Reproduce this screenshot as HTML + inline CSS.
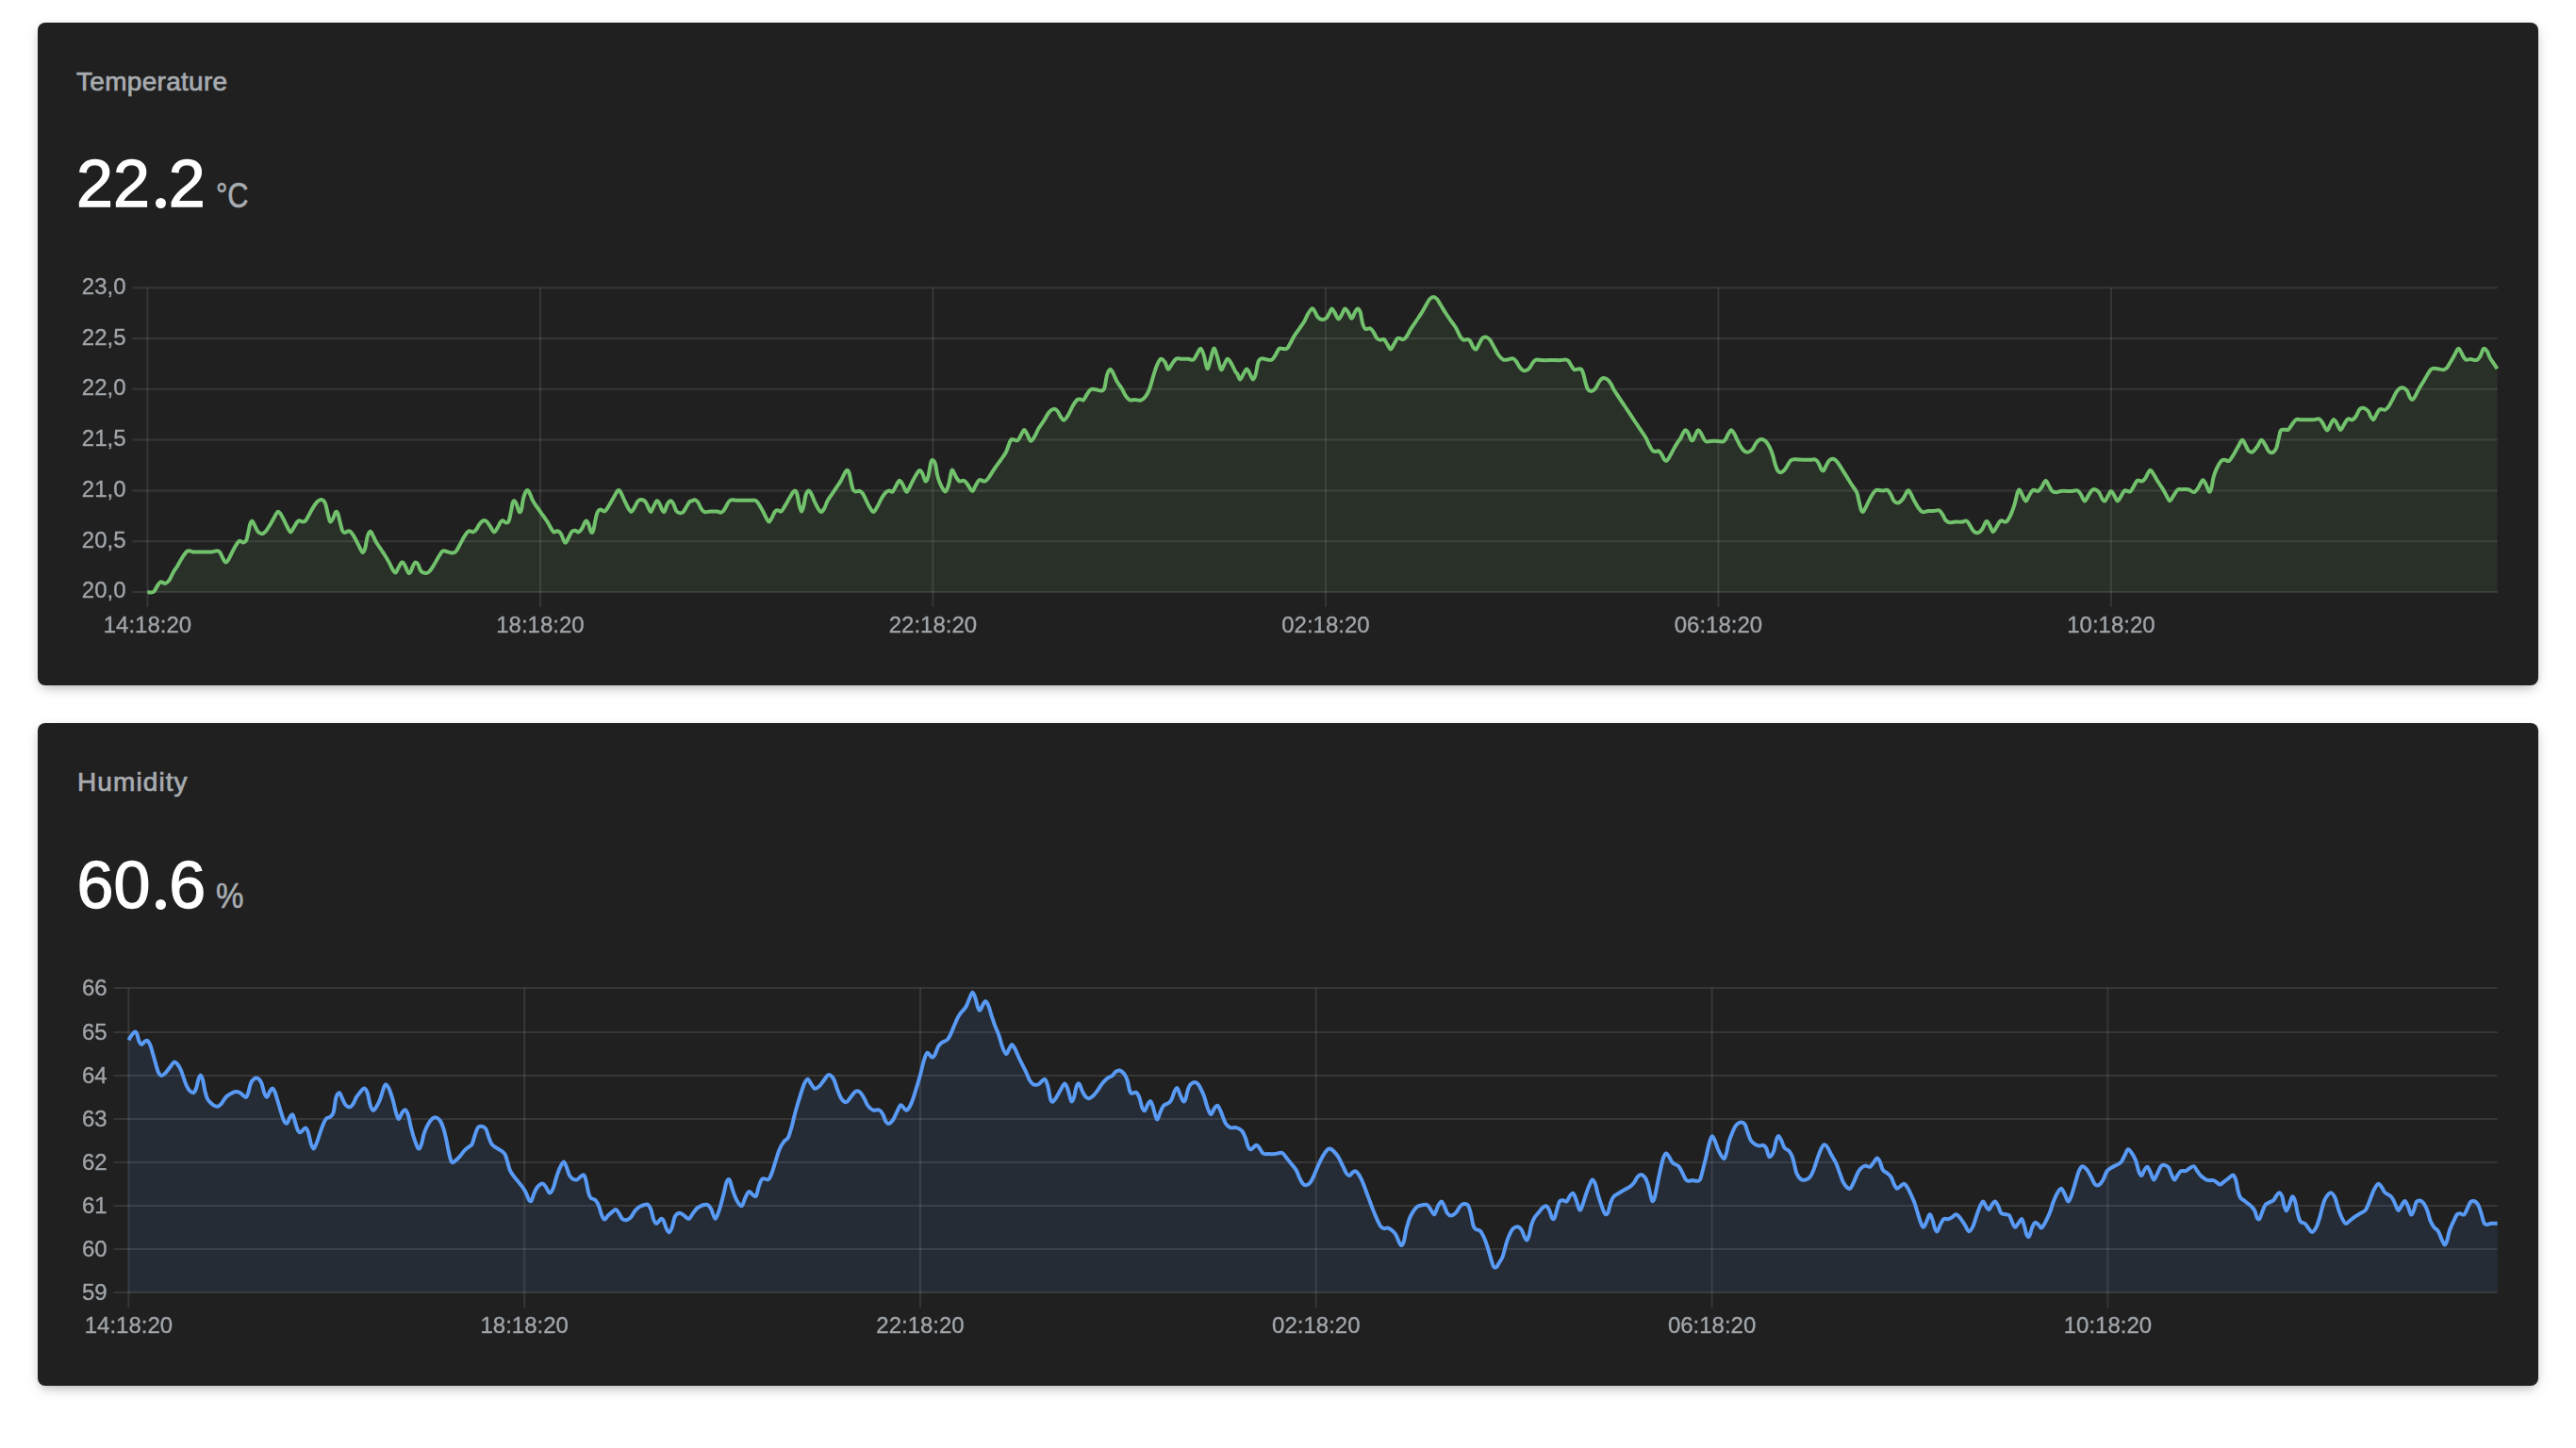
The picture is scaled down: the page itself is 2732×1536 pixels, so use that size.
<!DOCTYPE html>
<html><head><meta charset="utf-8">
<style>
html,body{margin:0;padding:0;background:#fff;}
body{width:2732px;height:1536px;overflow:hidden;position:relative;font-family:"Liberation Sans",sans-serif;}
.card{position:absolute;left:40px;width:2652px;height:703px;background:#202020;border-radius:8px;
 box-shadow:0 5px 14px -4px rgba(0,0,0,.35),0 0 8px rgba(0,0,0,.04);}
.c1{top:24px}.c2{top:766.6px}
.t{position:absolute;line-height:1;white-space:nowrap;}
.title{font-size:28px;color:#a8acb1;-webkit-text-stroke:0.7px #a8acb1}
.val{font-size:70px;color:#fff;-webkit-text-stroke:1.3px #fff}
.tp{color:transparent;-webkit-text-stroke-color:transparent}
.dot{position:absolute;width:11px;height:11px;border-radius:50%;background:#fff}
.unit{font-size:36px;color:#a8acb1;-webkit-text-stroke:0.6px #a8acb1;transform:scaleX(0.9);transform-origin:0 0}
svg{position:absolute;left:0;top:0}
text{font-family:"Liberation Sans",sans-serif;font-size:24px;fill:#a0a5aa;stroke:#a0a5aa;stroke-width:0.35px}
.yl{text-anchor:end}
.xl{text-anchor:middle}
</style></head><body>
<div class="card c1"></div>
<div class="card c2"></div>
<div class="t title" style="left:81px;top:73px;letter-spacing:0.3px">Temperature</div>
<div class="t val" style="left:81px;top:160.4px;letter-spacing:0.1px">22<span class="tp">.</span>2</div>
<div class="dot" style="left:164.7px;top:210.3px"></div>
<div class="t unit" style="left:229px;top:190px;transform:scaleX(0.855)">°C</div>
<div class="t title" style="left:82px;top:815.7px;letter-spacing:1.1px">Humidity</div>
<div class="t val" style="left:81.5px;top:903.7px;letter-spacing:0.1px">60<span class="tp">.</span>6</div>
<div class="dot" style="left:164.9px;top:953.5px"></div>
<div class="t unit" style="left:229px;top:933.3px;transform:scaleX(0.92)">%</div>
<svg width="2732" height="1536" viewBox="0 0 2732 1536" style="will-change:transform"><g stroke="rgba(255,255,255,0.1)" stroke-width="2"><line x1="140.4" y1="305.30" x2="2648.7" y2="305.30"/><line x1="140.4" y1="359.08" x2="2648.7" y2="359.08"/><line x1="140.4" y1="412.85" x2="2648.7" y2="412.85"/><line x1="140.4" y1="466.62" x2="2648.7" y2="466.62"/><line x1="140.4" y1="520.40" x2="2648.7" y2="520.40"/><line x1="140.4" y1="574.17" x2="2648.7" y2="574.17"/><line x1="140.4" y1="627.95" x2="2648.7" y2="627.95"/><line x1="156.40" y1="305.3" x2="156.40" y2="644.0"/><line x1="572.90" y1="305.3" x2="572.90" y2="644.0"/><line x1="989.40" y1="305.3" x2="989.40" y2="644.0"/><line x1="1405.90" y1="305.3" x2="1405.90" y2="644.0"/><line x1="1822.40" y1="305.3" x2="1822.40" y2="644.0"/><line x1="2238.90" y1="305.3" x2="2238.90" y2="644.0"/></g><path d="M156.4,628.1 C157.5,628.1 161.1,629.0 162.8,627.9 C164.6,626.8 165.6,623.2 166.9,621.5 C168.1,619.7 168.9,617.9 170.4,617.4 C171.8,617.0 174.1,619.2 175.6,618.8 C177.2,618.4 178.3,617.1 179.7,615.1 C181.1,613.1 182.3,609.5 183.8,606.9 C185.2,604.4 186.9,602.5 188.4,599.9 C190.0,597.4 191.5,594.2 193.1,591.8 C194.6,589.4 196.6,586.7 197.7,585.4 C198.9,584.1 198.9,584.2 200.1,584.2 C201.2,584.2 203.0,585.2 204.7,585.4 C206.5,585.6 207.3,585.4 210.6,585.4 C213.9,585.4 221.2,585.6 224.5,585.4 C227.8,585.2 228.9,584.1 230.4,584.2 C231.8,584.3 232.2,584.5 233.3,586.0 C234.3,587.4 235.8,591.2 236.8,593.0 C237.7,594.7 238.2,596.3 239.1,596.5 C240.0,596.6 240.7,596.1 242.0,594.1 C243.3,592.2 245.1,587.7 246.7,584.8 C248.2,581.9 250.1,578.5 251.3,576.7 C252.6,574.8 253.1,573.9 254.2,573.7 C255.4,573.6 257.1,575.6 258.3,575.5 C259.5,575.4 260.3,575.1 261.2,573.2 C262.1,571.2 262.9,566.8 263.5,563.8 C264.2,560.9 264.6,557.5 265.3,555.7 C266.0,553.9 266.8,552.6 267.6,552.8 C268.4,553.0 269.0,555.0 269.9,556.9 C270.9,558.7 272.2,562.3 273.4,563.8 C274.7,565.4 276.2,566.2 277.5,566.2 C278.9,566.2 280.1,565.4 281.6,563.8 C283.0,562.3 284.7,559.4 286.3,556.9 C287.8,554.3 289.6,551.0 290.9,548.7 C292.3,546.4 293.3,543.6 294.4,542.9 C295.5,542.2 296.2,543.1 297.3,544.6 C298.5,546.2 299.9,549.4 301.4,552.2 C302.8,555.0 304.9,559.5 306.0,561.5 C307.2,563.6 307.4,564.8 308.4,564.4 C309.3,564.0 310.7,561.0 311.9,559.2 C313.0,557.3 314.4,554.5 315.4,553.4 C316.3,552.2 316.7,552.2 317.7,552.2 C318.7,552.2 320.0,553.7 321.2,553.6 C322.4,553.5 323.5,553.0 324.7,551.6 C325.8,550.2 326.8,547.6 328.2,545.2 C329.5,542.8 331.5,539.2 332.8,537.1 C334.2,534.9 335.2,533.6 336.3,532.4 C337.5,531.2 338.7,530.3 339.8,530.1 C341.0,529.9 342.3,530.3 343.3,531.2 C344.3,532.2 344.9,533.4 345.6,535.9 C346.4,538.4 347.2,543.5 348.0,546.4 C348.8,549.3 349.4,552.8 350.3,553.4 C351.2,553.9 352.2,551.6 353.2,549.9 C354.2,548.1 355.3,543.7 356.1,542.9 C357.0,542.1 357.7,543.3 358.5,545.2 C359.2,547.2 360.0,551.6 360.8,554.5 C361.6,557.4 362.3,560.9 363.1,562.7 C363.9,564.4 364.3,564.9 365.4,565.0 C366.6,565.1 368.7,563.1 370.1,563.3 C371.5,563.5 372.2,564.3 373.6,566.2 C375.0,568.0 376.7,571.4 378.3,574.3 C379.8,577.2 381.8,581.7 382.9,583.6 C384.0,585.6 384.0,586.2 384.7,586.0 C385.3,585.8 386.1,585.4 387.0,582.5 C387.9,579.6 388.9,571.6 389.9,568.5 C390.9,565.4 391.8,563.8 392.8,563.8 C393.8,563.8 394.7,566.6 395.7,568.5 C396.8,570.4 397.9,573.2 399.2,575.5 C400.6,577.8 402.3,580.2 403.9,582.5 C405.4,584.8 407.0,586.9 408.5,589.5 C410.1,592.0 411.8,595.1 413.2,597.6 C414.5,600.1 415.6,603.0 416.7,604.6 C417.7,606.3 418.6,607.9 419.6,607.5 C420.6,607.1 421.4,604.1 422.5,602.3 C423.6,600.4 424.9,597.0 426.0,596.5 C427.1,595.9 427.7,596.9 428.9,598.8 C430.1,600.6 431.9,606.2 433.0,607.5 C434.1,608.9 434.5,608.0 435.3,606.9 C436.1,605.9 436.8,602.9 437.6,601.1 C438.5,599.4 439.6,596.8 440.6,596.5 C441.5,596.1 442.5,597.2 443.5,598.8 C444.4,600.3 445.1,604.2 446.4,605.8 C447.6,607.3 449.6,608.0 451.1,608.1 C452.5,608.2 453.7,607.7 455.1,606.4 C456.6,605.0 458.2,602.4 459.8,599.9 C461.4,597.5 463.0,594.2 464.5,591.8 C465.9,589.4 467.5,586.7 468.5,585.4 C469.6,584.1 469.8,584.2 470.9,584.2 C471.9,584.2 473.4,585.0 474.9,585.4 C476.5,585.8 478.7,586.7 480.2,586.6 C481.6,586.5 482.4,586.3 483.7,584.8 C484.9,583.4 486.3,580.4 487.7,577.8 C489.2,575.2 490.9,571.5 492.4,569.1 C494.0,566.7 495.5,564.0 497.1,563.3 C498.6,562.5 500.4,564.7 501.7,564.4 C503.1,564.1 504.1,563.0 505.2,561.5 C506.4,560.1 507.4,557.2 508.7,555.7 C510.0,554.1 511.5,552.6 512.8,552.2 C514.0,551.8 515.0,552.2 516.3,553.4 C517.5,554.5 519.1,557.3 520.4,559.2 C521.6,561.0 522.7,564.2 523.8,564.4 C525.0,564.6 526.2,562.1 527.3,560.4 C528.5,558.6 529.9,555.3 530.8,553.9 C531.8,552.6 532.2,552.1 533.2,552.2 C534.1,552.3 535.6,554.4 536.7,554.5 C537.7,554.6 538.7,554.7 539.6,552.8 C540.4,550.8 541.2,546.1 541.9,542.9 C542.6,539.7 543.1,535.5 543.6,533.6 C544.2,531.6 544.7,531.0 545.4,531.2 C546.1,531.4 546.8,532.8 547.7,534.7 C548.6,536.7 549.8,541.9 550.6,542.9 C551.5,543.9 552.2,543.1 553.0,540.6 C553.7,538.0 554.3,531.1 555.3,527.7 C556.3,524.3 557.7,521.0 558.8,520.2 C559.9,519.4 560.7,521.4 561.7,523.1 C562.7,524.7 563.5,527.9 564.6,530.1 C565.7,532.2 566.5,533.6 568.1,535.9 C569.7,538.2 572.0,541.3 573.9,544.1 C575.9,546.8 578.0,549.5 579.7,552.2 C581.5,554.9 583.1,558.3 584.4,560.4 C585.7,562.4 586.2,563.9 587.3,564.4 C588.5,564.9 590.1,563.0 591.4,563.3 C592.7,563.6 593.8,564.5 594.9,566.2 C596.0,567.8 596.9,571.6 597.8,573.2 C598.7,574.7 599.3,576.0 600.1,575.5 C601.0,575.0 602.0,572.2 603.0,570.3 C604.1,568.3 605.4,565.1 606.5,563.8 C607.7,562.6 608.9,562.6 610.0,562.7 C611.2,562.8 612.4,564.7 613.5,564.4 C614.7,564.1 615.8,562.9 617.0,560.9 C618.3,559.0 619.9,553.7 621.1,552.8 C622.3,551.9 623.0,553.8 624.0,555.7 C625.0,557.6 626.0,563.3 626.9,564.4 C627.8,565.6 628.5,564.9 629.2,562.7 C630.0,560.5 630.8,554.3 631.6,551.0 C632.3,547.7 633.0,544.6 633.9,542.9 C634.8,541.1 635.5,540.7 636.8,540.6 C638.1,540.5 639.9,543.1 641.5,542.3 C643.0,541.5 644.6,538.3 646.1,535.9 C647.7,533.5 649.2,530.4 650.8,527.7 C652.3,525.1 654.2,521.1 655.4,520.2 C656.7,519.3 657.2,520.7 658.4,522.5 C659.5,524.3 661.1,528.4 662.4,531.2 C663.8,534.1 665.3,537.5 666.5,539.4 C667.7,541.3 668.4,542.9 669.4,542.9 C670.4,542.9 671.2,541.2 672.3,539.4 C673.5,537.5 675.0,533.4 676.4,531.8 C677.8,530.3 679.1,530.0 680.5,530.1 C681.8,530.2 683.3,530.9 684.6,532.4 C685.8,534.0 687.1,537.6 688.0,539.4 C689.0,541.1 689.5,543.3 690.4,542.9 C691.3,542.5 692.2,539.0 693.3,537.1 C694.4,535.1 695.7,531.6 696.8,531.2 C697.9,530.9 698.7,533.0 699.7,534.7 C700.7,536.5 701.7,540.5 702.6,541.7 C703.5,543.0 704.1,543.5 704.9,542.3 C705.8,541.1 706.8,536.6 707.8,534.7 C708.9,532.9 710.3,531.2 711.3,531.2 C712.4,531.2 713.3,533.0 714.3,534.7 C715.2,536.5 716.1,540.2 717.2,541.7 C718.2,543.3 719.5,543.8 720.7,544.1 C721.8,544.3 723.0,544.4 724.2,543.5 C725.3,542.5 726.5,540.1 727.6,538.2 C728.8,536.4 730.2,533.5 731.1,532.4 C732.1,531.3 732.5,531.8 733.5,531.4 C734.5,531.1 735.8,530.0 737.0,530.3 C738.2,530.5 739.3,531.5 740.5,533.2 C741.6,534.8 742.8,538.5 744.0,540.2 C745.1,541.8 745.9,542.7 747.5,543.1 C749.0,543.5 751.2,542.6 753.3,542.5 C755.4,542.4 758.3,542.3 760.3,542.5 C762.2,542.7 763.6,544.0 764.9,543.6 C766.3,543.3 767.1,542.1 768.4,540.2 C769.8,538.2 771.7,533.6 773.1,532.0 C774.4,530.3 775.0,530.4 776.6,530.3 C778.1,530.1 779.3,530.7 782.4,530.8 C785.5,530.9 792.1,530.8 795.2,530.8 C798.3,530.8 799.5,530.3 801.0,530.8 C802.6,531.4 803.2,532.4 804.5,534.3 C805.9,536.3 807.8,540.0 809.2,542.5 C810.5,545.0 811.6,547.6 812.7,549.5 C813.8,551.3 814.6,553.5 815.6,553.5 C816.6,553.5 817.4,551.3 818.5,549.5 C819.6,547.6 820.9,543.8 822.0,542.5 C823.1,541.1 823.8,541.3 824.9,541.3 C826.0,541.3 827.1,543.3 828.4,542.5 C829.7,541.7 831.0,539.0 832.5,536.7 C833.9,534.3 835.8,530.8 837.1,528.5 C838.5,526.2 839.7,524.0 840.6,522.7 C841.6,521.3 842.2,520.2 843.0,520.4 C843.7,520.5 844.5,521.3 845.3,523.8 C846.1,526.4 846.8,532.4 847.6,535.5 C848.4,538.6 849.2,542.3 849.9,542.5 C850.7,542.7 851.5,539.6 852.3,536.7 C853.1,533.7 853.7,527.7 854.6,525.0 C855.5,522.3 856.5,520.5 857.5,520.4 C858.5,520.2 859.4,521.9 860.4,523.8 C861.5,525.8 862.8,529.5 863.9,532.0 C865.1,534.5 866.3,537.1 867.4,539.0 C868.6,540.8 869.7,543.1 870.9,543.1 C872.1,543.1 873.2,541.0 874.4,539.0 C875.6,536.9 876.5,533.4 877.9,530.8 C879.3,528.3 881.0,526.2 882.6,523.8 C884.1,521.5 885.7,519.2 887.2,516.9 C888.8,514.5 890.5,512.2 891.9,509.9 C893.2,507.5 894.3,504.7 895.4,502.9 C896.4,501.0 897.4,499.0 898.3,498.8 C899.2,498.6 899.9,499.9 900.6,501.7 C901.3,503.6 901.7,507.0 902.4,509.9 C903.0,512.8 903.8,517.2 904.7,519.2 C905.6,521.1 906.4,521.2 907.6,521.5 C908.8,521.8 910.4,520.5 911.7,520.9 C912.9,521.3 914.0,522.2 915.2,523.8 C916.3,525.5 917.5,528.5 918.7,530.8 C919.8,533.2 920.9,535.8 922.2,537.8 C923.4,539.9 924.9,543.1 926.2,543.1 C927.6,543.1 928.8,540.2 930.3,537.8 C931.8,535.4 933.4,531.1 935.0,528.5 C936.5,525.9 938.3,523.5 939.6,522.1 C941.0,520.7 941.9,520.5 943.1,520.4 C944.3,520.3 945.4,522.3 946.6,521.5 C947.8,520.7 948.9,517.6 950.1,515.7 C951.3,513.8 952.4,510.3 953.6,509.9 C954.8,509.5 955.8,511.4 957.1,513.4 C958.3,515.3 960.0,520.7 961.2,521.5 C962.3,522.3 962.8,520.2 964.1,518.0 C965.3,515.9 967.0,511.8 968.7,508.7 C970.5,505.6 973.0,500.6 974.6,499.4 C976.1,498.2 976.9,499.9 978.0,501.7 C979.2,503.6 980.5,509.9 981.5,510.5 C982.6,511.0 983.5,508.6 984.5,505.2 C985.4,501.8 986.5,492.9 987.4,490.1 C988.2,487.3 988.9,487.9 989.7,488.3 C990.5,488.7 991.2,489.6 992.0,492.4 C992.8,495.2 993.4,501.5 994.4,505.2 C995.3,508.9 996.5,511.8 997.8,514.5 C999.2,517.2 1001.1,521.5 1002.5,521.5 C1003.9,521.5 1004.9,518.0 1006.0,514.5 C1007.1,511.0 1008.1,503.1 1008.9,500.6 C1009.7,498.0 1009.8,498.4 1010.7,499.4 C1011.5,500.4 1013.0,504.5 1014.2,506.4 C1015.3,508.2 1016.3,509.9 1017.6,510.5 C1019.0,511.0 1020.9,509.4 1022.3,509.9 C1023.7,510.4 1024.3,511.5 1025.8,513.4 C1027.3,515.2 1029.6,520.6 1031.0,520.9 C1032.5,521.3 1033.2,517.4 1034.5,515.4 C1035.8,513.5 1037.0,510.0 1038.6,509.2 C1040.3,508.4 1042.6,510.9 1044.2,510.6 C1045.8,510.2 1046.6,509.3 1048.3,507.1 C1050.0,504.9 1052.3,500.7 1054.5,497.5 C1056.7,494.2 1059.4,490.8 1061.4,487.8 C1063.5,484.8 1065.2,483.0 1067.0,479.5 C1068.7,476.0 1070.4,469.3 1071.8,467.1 C1073.2,464.9 1074.0,466.4 1075.2,466.4 C1076.5,466.4 1078.1,467.9 1079.4,467.1 C1080.7,466.3 1081.7,463.4 1082.8,461.5 C1084.0,459.7 1085.1,456.0 1086.3,456.0 C1087.4,456.0 1088.6,459.6 1089.8,461.5 C1090.9,463.5 1091.9,467.5 1093.2,467.8 C1094.5,468.0 1096.0,465.1 1097.3,462.9 C1098.7,460.7 1099.9,457.4 1101.5,454.6 C1103.1,451.9 1105.2,449.2 1107.0,446.4 C1108.9,443.5 1110.8,439.4 1112.5,437.4 C1114.3,435.3 1115.9,434.2 1117.4,433.9 C1118.9,433.7 1120.3,434.6 1121.5,436.0 C1122.8,437.4 1123.8,440.6 1125.0,442.2 C1126.1,443.8 1127.2,445.9 1128.4,445.7 C1129.7,445.4 1131.1,443.2 1132.6,440.8 C1134.1,438.4 1135.8,433.9 1137.4,431.2 C1139.0,428.4 1140.9,425.5 1142.2,424.3 C1143.6,423.0 1144.5,423.6 1145.7,423.6 C1146.8,423.6 1148.0,425.1 1149.1,424.3 C1150.3,423.4 1151.3,420.6 1152.6,418.7 C1153.9,416.9 1155.1,414.1 1156.7,413.2 C1158.4,412.3 1160.4,413.0 1162.3,413.2 C1164.1,413.4 1166.3,414.8 1167.8,414.6 C1169.3,414.4 1170.2,414.6 1171.2,411.8 C1172.3,409.1 1173.0,401.3 1174.0,398.0 C1175.0,394.7 1176.3,392.0 1177.5,391.8 C1178.6,391.6 1179.8,394.6 1180.9,396.6 C1182.1,398.7 1182.9,401.6 1184.4,404.2 C1185.9,406.9 1188.3,409.9 1189.9,412.5 C1191.5,415.2 1192.7,418.2 1194.0,420.1 C1195.4,422.1 1196.6,423.6 1198.2,424.3 C1199.8,424.9 1201.7,423.9 1203.7,424.0 C1205.7,424.0 1208.1,425.1 1209.9,424.5 C1211.8,424.0 1213.3,422.7 1214.8,420.8 C1216.2,418.9 1217.5,416.8 1218.9,413.2 C1220.3,409.6 1221.7,403.8 1223.0,399.4 C1224.4,395.0 1225.8,390.1 1227.2,387.0 C1228.6,383.9 1229.9,381.2 1231.3,380.7 C1232.7,380.3 1234.2,382.4 1235.5,384.2 C1236.7,386.0 1237.8,391.3 1238.9,391.8 C1240.1,392.3 1241.0,388.8 1242.4,387.0 C1243.8,385.1 1245.4,381.8 1247.2,380.7 C1249.1,379.7 1251.2,380.7 1253.4,380.7 C1255.6,380.7 1258.3,380.6 1260.3,380.7 C1262.4,380.9 1264.2,382.5 1265.9,381.4 C1267.5,380.4 1268.7,376.5 1270.0,374.5 C1271.3,372.6 1272.3,369.2 1273.5,369.7 C1274.6,370.2 1275.8,373.7 1276.9,377.3 C1278.1,380.9 1279.2,390.4 1280.4,391.1 C1281.5,391.8 1282.7,385.0 1283.8,381.4 C1285.0,377.9 1286.1,370.4 1287.3,369.7 C1288.4,369.0 1289.5,373.6 1290.7,377.3 C1292.0,381.0 1293.7,390.0 1294.9,391.8 C1296.0,393.6 1296.5,390.2 1297.6,388.3 C1298.8,386.5 1300.4,381.2 1301.8,380.7 C1303.1,380.3 1304.5,383.4 1305.9,385.6 C1307.3,387.8 1309.0,392.0 1310.1,393.9 C1311.1,395.7 1311.5,395.2 1312.3,396.7 C1313.2,398.1 1314.2,402.5 1315.2,402.5 C1316.3,402.5 1317.6,398.5 1318.7,396.7 C1319.9,394.8 1321.1,391.4 1322.2,391.4 C1323.4,391.4 1324.7,394.8 1325.7,396.7 C1326.8,398.5 1327.7,402.3 1328.6,402.5 C1329.6,402.7 1330.6,400.9 1331.5,397.8 C1332.5,394.7 1333.4,386.8 1334.5,383.8 C1335.5,380.9 1336.4,380.7 1337.9,380.4 C1339.5,380.0 1341.9,381.3 1343.8,381.5 C1345.6,381.7 1347.6,382.3 1349.0,381.5 C1350.5,380.7 1351.2,378.8 1352.5,376.9 C1353.8,374.9 1355.3,371.0 1356.6,369.9 C1357.8,368.7 1358.7,369.9 1360.1,369.9 C1361.4,369.9 1363.4,370.7 1364.7,369.9 C1366.1,369.0 1366.9,367.0 1368.2,364.6 C1369.6,362.3 1371.1,358.7 1372.9,355.9 C1374.6,353.1 1377.0,350.3 1378.7,347.7 C1380.5,345.2 1381.9,343.3 1383.4,340.8 C1384.8,338.2 1386.1,334.8 1387.4,332.6 C1388.8,330.4 1390.4,327.8 1391.5,327.4 C1392.7,327.0 1393.5,328.8 1394.4,330.3 C1395.4,331.7 1396.1,334.6 1397.3,336.1 C1398.6,337.6 1400.4,338.8 1402.0,339.0 C1403.6,339.2 1405.3,338.5 1406.7,337.3 C1408.0,336.0 1409.2,333.1 1410.2,331.4 C1411.1,329.8 1411.6,327.4 1412.5,327.4 C1413.4,327.4 1414.2,329.6 1415.4,331.4 C1416.6,333.3 1418.2,338.0 1419.5,338.4 C1420.7,338.8 1421.8,335.6 1423.0,333.8 C1424.1,331.9 1425.3,327.8 1426.5,327.4 C1427.6,327.0 1428.8,329.7 1429.9,331.4 C1431.1,333.2 1432.3,337.8 1433.4,337.8 C1434.6,337.8 1435.9,333.2 1436.9,331.4 C1438.0,329.7 1438.9,327.4 1439.8,327.4 C1440.8,327.4 1441.9,328.8 1442.8,331.4 C1443.6,334.1 1444.2,340.2 1445.1,343.1 C1446.0,346.0 1446.6,348.0 1448.0,348.9 C1449.4,349.8 1451.8,347.7 1453.2,348.3 C1454.7,348.9 1455.6,350.7 1456.7,352.4 C1457.9,354.2 1459.1,357.5 1460.2,358.8 C1461.4,360.2 1462.5,360.4 1463.7,360.6 C1465.0,360.8 1466.5,359.2 1467.8,360.0 C1469.1,360.8 1470.1,363.5 1471.3,365.2 C1472.5,367.0 1473.6,370.5 1474.8,370.5 C1475.9,370.5 1477.0,367.2 1478.3,365.2 C1479.5,363.3 1480.7,359.7 1482.4,358.8 C1484.0,357.9 1486.6,360.3 1488.2,360.0 C1489.7,359.7 1490.3,358.9 1491.7,357.1 C1493.0,355.2 1494.6,351.7 1496.3,348.9 C1498.1,346.1 1500.2,343.1 1502.2,340.2 C1504.1,337.3 1506.2,334.3 1508.0,331.4 C1509.7,328.6 1511.3,325.6 1512.6,323.3 C1514.0,321.0 1514.9,318.8 1516.1,317.5 C1517.4,316.1 1518.8,315.1 1520.2,315.1 C1521.6,315.1 1523.0,316.1 1524.3,317.5 C1525.5,318.8 1526.4,321.1 1527.8,323.3 C1529.1,325.5 1530.7,328.1 1532.4,330.9 C1534.2,333.6 1536.3,336.8 1538.3,339.6 C1540.2,342.4 1542.3,344.8 1544.1,347.7 C1545.8,350.7 1547.4,354.9 1548.7,357.1 C1550.1,359.2 1551.0,360.1 1552.2,360.6 C1553.5,361.0 1555.1,359.8 1556.3,360.0 C1557.5,360.2 1558.1,360.3 1559.2,361.7 C1560.3,363.2 1561.6,367.3 1562.7,368.7 C1563.8,370.2 1564.6,371.0 1565.6,370.5 C1566.6,369.9 1567.5,367.2 1568.5,365.2 C1569.6,363.3 1570.8,360.1 1572.0,358.8 C1573.3,357.5 1574.7,357.4 1576.1,357.6 C1577.5,357.9 1578.7,358.7 1580.2,360.6 C1581.6,362.4 1583.3,366.0 1584.8,368.7 C1586.4,371.4 1587.9,374.7 1589.5,376.9 C1591.0,379.0 1592.6,380.7 1594.2,381.5 C1595.7,382.3 1597.1,381.7 1598.8,381.5 C1600.6,381.3 1603.1,380.0 1604.6,380.4 C1606.2,380.7 1607.0,382.0 1608.2,383.5 C1609.3,385.0 1610.5,387.8 1611.6,389.3 C1612.8,390.9 1614.0,392.2 1615.1,392.8 C1616.3,393.4 1617.5,393.2 1618.6,392.8 C1619.8,392.4 1621.0,391.8 1622.1,390.5 C1623.3,389.1 1624.5,386.1 1625.6,384.7 C1626.8,383.2 1627.6,382.2 1629.1,381.7 C1630.7,381.3 1632.0,382.0 1634.9,382.1 C1637.8,382.2 1643.1,382.1 1646.6,382.1 C1650.1,382.1 1653.6,382.2 1655.9,382.1 C1658.2,382.0 1659.3,381.3 1660.6,381.4 C1661.8,381.5 1662.4,381.7 1663.5,382.9 C1664.5,384.1 1665.9,387.2 1667.0,388.7 C1668.0,390.3 1668.8,391.7 1669.9,392.2 C1670.9,392.7 1672.2,391.7 1673.4,391.6 C1674.5,391.5 1675.9,390.9 1676.9,391.6 C1677.8,392.4 1678.4,394.0 1679.2,396.3 C1680.0,398.6 1680.7,402.9 1681.5,405.6 C1682.3,408.3 1683.0,411.1 1683.8,412.6 C1684.7,414.2 1685.7,414.7 1686.8,414.9 C1687.8,415.1 1689.2,414.5 1690.3,413.8 C1691.3,413.0 1692.1,411.9 1693.2,410.3 C1694.2,408.6 1695.5,405.4 1696.7,403.9 C1697.8,402.3 1698.9,401.3 1700.2,401.0 C1701.4,400.7 1702.9,401.2 1704.2,402.1 C1705.6,403.1 1707.0,404.8 1708.3,406.8 C1709.6,408.7 1710.4,411.4 1711.8,413.8 C1713.2,416.1 1714.7,418.1 1716.5,420.8 C1718.2,423.4 1720.3,426.6 1722.3,429.5 C1724.2,432.4 1726.2,435.3 1728.1,438.2 C1730.0,441.1 1732.0,444.1 1733.9,447.0 C1735.9,449.9 1737.8,452.8 1739.7,455.7 C1741.7,458.6 1744.0,461.7 1745.6,464.4 C1747.1,467.1 1747.9,469.8 1749.1,472.0 C1750.2,474.2 1751.4,476.7 1752.6,477.8 C1753.7,479.0 1755.0,478.9 1756.0,479.0 C1757.1,479.1 1758.0,478.0 1759.0,478.4 C1759.9,478.8 1760.9,479.9 1761.9,481.3 C1762.8,482.8 1763.9,485.9 1764.8,487.1 C1765.7,488.4 1766.3,489.0 1767.1,488.9 C1767.9,488.8 1768.6,487.8 1769.4,486.6 C1770.3,485.3 1771.3,483.3 1772.4,481.3 C1773.4,479.4 1774.7,476.9 1775.8,474.9 C1777.0,472.9 1778.3,470.7 1779.3,469.1 C1780.4,467.4 1781.3,466.7 1782.3,465.0 C1783.2,463.4 1784.3,460.6 1785.2,459.2 C1786.0,457.7 1786.6,456.3 1787.5,456.3 C1788.4,456.3 1789.4,457.5 1790.4,459.2 C1791.4,460.8 1792.4,464.9 1793.3,466.2 C1794.2,467.4 1794.9,467.5 1795.6,466.8 C1796.4,466.0 1797.1,463.3 1798.0,461.5 C1798.8,459.8 1799.9,456.7 1800.9,456.3 C1801.9,455.9 1802.8,457.7 1803.8,459.2 C1804.8,460.6 1805.7,463.5 1806.7,465.0 C1807.7,466.6 1808.4,468.0 1809.6,468.5 C1810.9,469.0 1812.3,468.0 1814.3,467.9 C1816.2,467.8 1819.1,467.8 1821.3,467.9 C1823.4,468.0 1825.6,468.8 1827.1,468.5 C1828.5,468.2 1829.0,467.5 1830.0,466.2 C1831.0,464.8 1831.9,462.0 1832.9,460.4 C1833.9,458.7 1834.9,456.5 1835.8,456.3 C1836.8,456.1 1837.7,457.5 1838.7,459.2 C1839.8,460.8 1841.1,463.8 1842.2,466.2 C1843.4,468.5 1844.5,471.1 1845.7,473.2 C1847.0,475.2 1848.4,477.3 1849.8,478.4 C1851.2,479.5 1852.4,479.9 1853.9,479.6 C1855.3,479.3 1857.1,478.3 1858.5,476.7 C1860.0,475.0 1861.2,471.4 1862.6,469.7 C1864.0,467.9 1865.3,466.7 1866.7,466.2 C1868.0,465.7 1869.4,466.0 1870.8,466.8 C1872.1,467.5 1873.6,469.0 1874.8,470.8 C1876.1,472.7 1877.4,475.5 1878.3,477.8 C1879.3,480.2 1879.9,482.2 1880.7,484.8 C1881.4,487.4 1882.1,491.0 1883.0,493.5 C1883.9,496.1 1884.9,498.7 1885.9,499.9 C1886.9,501.2 1887.7,501.3 1888.8,501.1 C1889.9,500.9 1891.3,499.7 1892.3,498.8 C1893.3,497.8 1893.5,497.1 1894.7,495.4 C1895.8,493.7 1897.8,489.8 1899.3,488.4 C1900.9,487.1 1901.6,487.4 1904.0,487.3 C1906.3,487.2 1910.6,487.8 1913.3,487.8 C1916.0,487.9 1918.3,487.9 1920.3,487.8 C1922.2,487.8 1923.6,486.8 1924.9,487.3 C1926.3,487.8 1927.3,488.9 1928.4,490.8 C1929.6,492.6 1931.0,497.0 1931.9,498.3 C1932.9,499.7 1933.5,499.6 1934.3,498.9 C1935.0,498.2 1935.6,496.0 1936.6,494.3 C1937.6,492.5 1938.8,489.7 1940.1,488.4 C1941.3,487.2 1942.8,486.5 1944.2,486.7 C1945.5,486.9 1946.8,487.9 1948.2,489.6 C1949.7,491.2 1951.1,493.9 1952.9,496.6 C1954.6,499.3 1956.8,502.8 1958.7,505.9 C1960.6,509.0 1962.8,512.5 1964.5,515.2 C1966.3,517.9 1968.0,519.5 1969.2,522.2 C1970.4,524.9 1970.7,528.4 1971.5,531.5 C1972.3,534.6 1973.1,539.0 1973.8,540.8 C1974.6,542.7 1975.2,543.4 1976.2,542.6 C1977.1,541.8 1978.3,538.8 1979.7,536.2 C1981.0,533.6 1982.8,529.5 1984.3,526.9 C1985.9,524.2 1987.6,521.6 1989.0,520.5 C1990.3,519.3 1991.1,519.9 1992.5,519.9 C1993.8,519.9 1995.6,520.5 1997.1,520.5 C1998.7,520.5 2000.4,519.2 2001.8,519.9 C2003.2,520.6 2004.1,522.6 2005.3,524.5 C2006.5,526.5 2007.4,530.1 2008.8,531.5 C2010.1,533.0 2011.9,533.7 2013.4,533.3 C2015.0,532.9 2016.5,531.3 2018.1,529.2 C2019.8,527.1 2022.0,521.4 2023.3,520.5 C2024.7,519.5 2025.2,521.7 2026.3,523.4 C2027.3,525.0 2028.4,527.8 2029.7,530.4 C2031.1,532.9 2032.9,536.4 2034.4,538.5 C2036.0,540.6 2037.3,542.6 2039.1,543.2 C2040.8,543.7 2042.9,542.2 2044.9,542.0 C2046.8,541.8 2048.8,542.1 2050.7,542.0 C2052.6,541.9 2055.0,540.8 2056.5,541.4 C2058.1,542.0 2058.9,543.7 2060.0,545.5 C2061.2,547.2 2062.3,550.4 2063.5,551.9 C2064.8,553.4 2065.8,553.9 2067.6,554.2 C2069.3,554.5 2071.8,553.7 2074.0,553.6 C2076.2,553.5 2079.0,553.8 2081.0,553.6 C2082.9,553.5 2084.3,551.9 2085.6,552.5 C2087.0,553.1 2087.9,555.3 2089.1,557.1 C2090.4,559.0 2091.9,562.2 2093.2,563.5 C2094.6,564.9 2095.8,565.6 2097.3,565.3 C2098.7,565.0 2100.4,563.8 2101.9,561.8 C2103.5,559.8 2105.2,553.8 2106.6,553.1 C2108.0,552.3 2108.9,555.3 2110.1,557.1 C2111.3,559.0 2112.4,563.7 2113.6,564.1 C2114.8,564.5 2115.7,561.4 2117.1,559.5 C2118.4,557.5 2120.0,553.5 2121.7,552.5 C2123.5,551.5 2125.8,554.6 2127.6,553.6 C2129.3,552.7 2130.7,550.0 2132.2,546.7 C2133.8,543.4 2135.6,537.9 2136.9,533.8 C2138.1,529.8 2138.9,524.5 2139.8,522.2 C2140.7,519.9 2141.3,519.3 2142.1,519.9 C2143.0,520.5 2144.0,523.8 2145.0,525.7 C2146.1,527.6 2147.4,531.5 2148.5,531.5 C2149.7,531.5 2150.8,527.6 2152.0,525.7 C2153.3,523.8 2154.5,520.6 2156.1,519.9 C2157.7,519.1 2159.9,521.4 2161.3,521.0 C2162.8,520.6 2163.5,519.4 2164.8,517.5 C2166.2,515.7 2168.1,510.4 2169.5,510.0 C2170.9,509.6 2171.8,513.4 2173.0,515.2 C2174.2,517.1 2175.1,519.9 2176.5,521.0 C2177.8,522.2 2179.6,522.2 2181.1,522.2 C2182.7,522.2 2183.1,521.1 2185.8,520.9 C2188.5,520.7 2194.6,521.0 2197.5,520.9 C2200.4,520.8 2201.7,519.7 2203.3,520.3 C2204.8,520.9 2205.5,522.6 2206.8,524.4 C2208.0,526.2 2209.5,531.2 2210.9,531.4 C2212.2,531.6 2213.7,527.4 2214.9,525.6 C2216.2,523.7 2217.3,521.4 2218.4,520.3 C2219.6,519.3 2220.7,518.9 2221.9,519.2 C2223.2,519.5 2224.7,520.4 2226.0,522.1 C2227.3,523.7 2228.4,527.5 2229.5,529.1 C2230.6,530.6 2231.3,532.0 2232.4,531.4 C2233.5,530.8 2234.8,527.3 2235.9,525.6 C2237.0,523.8 2237.8,521.1 2238.8,520.9 C2239.8,520.7 2240.6,522.7 2241.7,524.4 C2242.9,526.2 2244.4,531.2 2245.8,531.4 C2247.2,531.6 2248.6,527.4 2249.9,525.6 C2251.1,523.7 2251.8,521.0 2253.4,520.3 C2254.9,519.6 2257.6,522.2 2259.2,521.5 C2260.7,520.8 2261.4,518.2 2262.7,516.3 C2263.9,514.3 2265.2,510.8 2266.8,509.8 C2268.3,508.9 2270.5,510.9 2272.0,510.4 C2273.5,509.9 2274.1,508.9 2275.5,506.9 C2276.9,505.0 2278.7,499.4 2280.2,498.8 C2281.6,498.2 2282.9,501.5 2284.2,503.4 C2285.6,505.4 2286.8,508.1 2288.3,510.4 C2289.8,512.8 2291.4,514.9 2293.0,517.4 C2294.5,519.9 2296.3,523.2 2297.6,525.6 C2299.0,527.9 2299.9,531.2 2301.1,531.4 C2302.3,531.6 2303.2,528.7 2304.6,526.7 C2306.0,524.8 2307.7,521.0 2309.3,519.7 C2310.8,518.5 2312.0,519.3 2313.9,519.2 C2315.9,519.1 2318.8,518.7 2320.9,519.2 C2323.0,519.6 2325.0,522.4 2326.7,522.1 C2328.5,521.8 2329.8,519.6 2331.4,517.4 C2332.9,515.3 2334.7,509.8 2336.0,509.3 C2337.4,508.7 2338.4,511.9 2339.5,513.9 C2340.7,516.0 2342.1,520.9 2343.0,521.5 C2344.0,522.1 2344.6,520.0 2345.4,517.4 C2346.1,514.8 2346.7,509.3 2347.7,505.8 C2348.7,502.3 2349.8,499.3 2351.2,496.5 C2352.5,493.6 2354.5,490.3 2355.8,488.9 C2357.2,487.4 2358.0,487.7 2359.3,487.7 C2360.7,487.7 2362.4,489.8 2364.0,488.9 C2365.6,488.0 2367.1,484.9 2368.7,482.5 C2370.2,480.1 2371.8,476.9 2373.3,474.3 C2374.9,471.7 2376.6,467.1 2378.0,466.8 C2379.3,466.4 2380.3,470.1 2381.5,472.0 C2382.6,473.9 2383.6,477.2 2385.0,478.4 C2386.3,479.6 2388.1,479.9 2389.6,479.0 C2391.2,478.1 2392.8,475.2 2394.3,473.2 C2395.7,471.1 2397.0,467.0 2398.4,466.8 C2399.7,466.6 2401.2,470.1 2402.4,472.0 C2403.7,473.9 2404.7,477.0 2405.9,478.4 C2407.2,479.8 2408.6,480.6 2410.0,480.2 C2411.4,479.7 2413.0,477.8 2414.1,475.5 C2415.1,473.2 2415.6,469.3 2416.4,466.2 C2417.2,463.1 2417.8,458.6 2418.7,456.9 C2419.7,455.1 2420.9,455.9 2422.2,455.7 C2423.6,455.5 2425.5,456.5 2426.9,455.7 C2428.2,454.9 2429.0,452.8 2430.4,451.0 C2431.7,449.3 2433.3,446.2 2435.0,445.2 C2436.8,444.2 2437.8,445.2 2440.9,445.2 C2444.0,445.2 2450.5,445.3 2453.7,445.2 C2456.8,445.1 2458.1,443.9 2459.7,444.5 C2461.4,445.1 2462.1,447.0 2463.4,449.0 C2464.8,451.0 2466.6,456.1 2467.9,456.4 C2469.3,456.7 2470.2,452.6 2471.4,450.7 C2472.5,448.8 2473.8,445.1 2475.0,444.9 C2476.1,444.6 2477.2,447.4 2478.4,449.2 C2479.6,451.1 2480.9,455.8 2482.2,456.0 C2483.5,456.2 2484.8,452.1 2486.1,450.2 C2487.4,448.3 2488.5,445.2 2490.0,444.4 C2491.4,443.6 2493.3,445.8 2494.8,445.4 C2496.2,444.9 2497.4,443.4 2498.7,441.5 C2500.0,439.6 2501.2,435.7 2502.5,434.2 C2503.8,432.8 2504.9,432.6 2506.4,432.8 C2507.8,433.0 2509.9,434.2 2511.2,435.7 C2512.5,437.1 2513.2,439.9 2514.1,441.5 C2515.1,443.1 2516.1,445.5 2517.0,445.4 C2518.0,445.2 2518.8,442.4 2519.9,440.5 C2521.1,438.7 2522.2,435.2 2523.8,434.2 C2525.4,433.3 2528.0,435.3 2529.6,434.7 C2531.2,434.2 2532.2,432.6 2533.5,430.9 C2534.8,429.1 2536.0,426.5 2537.3,424.1 C2538.6,421.7 2539.9,418.4 2541.2,416.4 C2542.5,414.4 2543.8,412.8 2545.1,412.0 C2546.4,411.2 2547.6,411.1 2548.9,411.5 C2550.2,411.9 2551.7,412.8 2552.8,414.4 C2553.9,416.0 2554.8,419.6 2555.7,421.2 C2556.6,422.8 2557.1,424.3 2558.1,424.1 C2559.1,423.9 2560.3,422.2 2561.5,420.2 C2562.7,418.3 2563.9,415.1 2565.4,412.5 C2566.8,409.9 2568.7,407.2 2570.2,404.8 C2571.6,402.3 2572.8,400.1 2574.1,398.0 C2575.4,395.9 2576.8,393.4 2577.9,392.2 C2579.1,391.0 2579.5,390.9 2580.8,390.7 C2582.1,390.6 2583.9,391.0 2585.7,391.2 C2587.4,391.5 2589.9,392.4 2591.5,392.2 C2593.1,392.0 2594.0,391.2 2595.3,389.8 C2596.6,388.3 2597.9,385.7 2599.2,383.5 C2600.5,381.3 2601.8,379.0 2603.1,376.7 C2604.4,374.5 2605.8,370.6 2606.9,370.0 C2608.1,369.3 2608.9,371.4 2609.8,372.9 C2610.8,374.3 2611.8,377.2 2612.7,378.7 C2613.7,380.1 2614.3,381.2 2615.6,381.6 C2616.9,382.0 2618.7,381.0 2620.5,381.1 C2622.2,381.2 2624.7,382.5 2626.3,382.0 C2627.9,381.6 2628.8,380.7 2630.1,378.7 C2631.4,376.7 2632.7,370.9 2634.0,370.0 C2635.3,369.0 2636.7,371.3 2637.9,372.9 C2639.0,374.5 2639.6,377.5 2640.8,379.6 C2641.9,381.7 2643.3,383.5 2644.6,385.4 C2645.9,387.4 2647.9,390.3 2648.5,391.2 L2648.5,628.0 L156.4,628.0 Z" fill="rgba(114,193,108,0.1)" stroke="none"/><path d="M156.4,628.1 C157.5,628.1 161.1,629.0 162.8,627.9 C164.6,626.8 165.6,623.2 166.9,621.5 C168.1,619.7 168.9,617.9 170.4,617.4 C171.8,617.0 174.1,619.2 175.6,618.8 C177.2,618.4 178.3,617.1 179.7,615.1 C181.1,613.1 182.3,609.5 183.8,606.9 C185.2,604.4 186.9,602.5 188.4,599.9 C190.0,597.4 191.5,594.2 193.1,591.8 C194.6,589.4 196.6,586.7 197.7,585.4 C198.9,584.1 198.9,584.2 200.1,584.2 C201.2,584.2 203.0,585.2 204.7,585.4 C206.5,585.6 207.3,585.4 210.6,585.4 C213.9,585.4 221.2,585.6 224.5,585.4 C227.8,585.2 228.9,584.1 230.4,584.2 C231.8,584.3 232.2,584.5 233.3,586.0 C234.3,587.4 235.8,591.2 236.8,593.0 C237.7,594.7 238.2,596.3 239.1,596.5 C240.0,596.6 240.7,596.1 242.0,594.1 C243.3,592.2 245.1,587.7 246.7,584.8 C248.2,581.9 250.1,578.5 251.3,576.7 C252.6,574.8 253.1,573.9 254.2,573.7 C255.4,573.6 257.1,575.6 258.3,575.5 C259.5,575.4 260.3,575.1 261.2,573.2 C262.1,571.2 262.9,566.8 263.5,563.8 C264.2,560.9 264.6,557.5 265.3,555.7 C266.0,553.9 266.8,552.6 267.6,552.8 C268.4,553.0 269.0,555.0 269.9,556.9 C270.9,558.7 272.2,562.3 273.4,563.8 C274.7,565.4 276.2,566.2 277.5,566.2 C278.9,566.2 280.1,565.4 281.6,563.8 C283.0,562.3 284.7,559.4 286.3,556.9 C287.8,554.3 289.6,551.0 290.9,548.7 C292.3,546.4 293.3,543.6 294.4,542.9 C295.5,542.2 296.2,543.1 297.3,544.6 C298.5,546.2 299.9,549.4 301.4,552.2 C302.8,555.0 304.9,559.5 306.0,561.5 C307.2,563.6 307.4,564.8 308.4,564.4 C309.3,564.0 310.7,561.0 311.9,559.2 C313.0,557.3 314.4,554.5 315.4,553.4 C316.3,552.2 316.7,552.2 317.7,552.2 C318.7,552.2 320.0,553.7 321.2,553.6 C322.4,553.5 323.5,553.0 324.7,551.6 C325.8,550.2 326.8,547.6 328.2,545.2 C329.5,542.8 331.5,539.2 332.8,537.1 C334.2,534.9 335.2,533.6 336.3,532.4 C337.5,531.2 338.7,530.3 339.8,530.1 C341.0,529.9 342.3,530.3 343.3,531.2 C344.3,532.2 344.9,533.4 345.6,535.9 C346.4,538.4 347.2,543.5 348.0,546.4 C348.8,549.3 349.4,552.8 350.3,553.4 C351.2,553.9 352.2,551.6 353.2,549.9 C354.2,548.1 355.3,543.7 356.1,542.9 C357.0,542.1 357.7,543.3 358.5,545.2 C359.2,547.2 360.0,551.6 360.8,554.5 C361.6,557.4 362.3,560.9 363.1,562.7 C363.9,564.4 364.3,564.9 365.4,565.0 C366.6,565.1 368.7,563.1 370.1,563.3 C371.5,563.5 372.2,564.3 373.6,566.2 C375.0,568.0 376.7,571.4 378.3,574.3 C379.8,577.2 381.8,581.7 382.9,583.6 C384.0,585.6 384.0,586.2 384.7,586.0 C385.3,585.8 386.1,585.4 387.0,582.5 C387.9,579.6 388.9,571.6 389.9,568.5 C390.9,565.4 391.8,563.8 392.8,563.8 C393.8,563.8 394.7,566.6 395.7,568.5 C396.8,570.4 397.9,573.2 399.2,575.5 C400.6,577.8 402.3,580.2 403.9,582.5 C405.4,584.8 407.0,586.9 408.5,589.5 C410.1,592.0 411.8,595.1 413.2,597.6 C414.5,600.1 415.6,603.0 416.7,604.6 C417.7,606.3 418.6,607.9 419.6,607.5 C420.6,607.1 421.4,604.1 422.5,602.3 C423.6,600.4 424.9,597.0 426.0,596.5 C427.1,595.9 427.7,596.9 428.9,598.8 C430.1,600.6 431.9,606.2 433.0,607.5 C434.1,608.9 434.5,608.0 435.3,606.9 C436.1,605.9 436.8,602.9 437.6,601.1 C438.5,599.4 439.6,596.8 440.6,596.5 C441.5,596.1 442.5,597.2 443.5,598.8 C444.4,600.3 445.1,604.2 446.4,605.8 C447.6,607.3 449.6,608.0 451.1,608.1 C452.5,608.2 453.7,607.7 455.1,606.4 C456.6,605.0 458.2,602.4 459.8,599.9 C461.4,597.5 463.0,594.2 464.5,591.8 C465.9,589.4 467.5,586.7 468.5,585.4 C469.6,584.1 469.8,584.2 470.9,584.2 C471.9,584.2 473.4,585.0 474.9,585.4 C476.5,585.8 478.7,586.7 480.2,586.6 C481.6,586.5 482.4,586.3 483.7,584.8 C484.9,583.4 486.3,580.4 487.7,577.8 C489.2,575.2 490.9,571.5 492.4,569.1 C494.0,566.7 495.5,564.0 497.1,563.3 C498.6,562.5 500.4,564.7 501.7,564.4 C503.1,564.1 504.1,563.0 505.2,561.5 C506.4,560.1 507.4,557.2 508.7,555.7 C510.0,554.1 511.5,552.6 512.8,552.2 C514.0,551.8 515.0,552.2 516.3,553.4 C517.5,554.5 519.1,557.3 520.4,559.2 C521.6,561.0 522.7,564.2 523.8,564.4 C525.0,564.6 526.2,562.1 527.3,560.4 C528.5,558.6 529.9,555.3 530.8,553.9 C531.8,552.6 532.2,552.1 533.2,552.2 C534.1,552.3 535.6,554.4 536.7,554.5 C537.7,554.6 538.7,554.7 539.6,552.8 C540.4,550.8 541.2,546.1 541.9,542.9 C542.6,539.7 543.1,535.5 543.6,533.6 C544.2,531.6 544.7,531.0 545.4,531.2 C546.1,531.4 546.8,532.8 547.7,534.7 C548.6,536.7 549.8,541.9 550.6,542.9 C551.5,543.9 552.2,543.1 553.0,540.6 C553.7,538.0 554.3,531.1 555.3,527.7 C556.3,524.3 557.7,521.0 558.8,520.2 C559.9,519.4 560.7,521.4 561.7,523.1 C562.7,524.7 563.5,527.9 564.6,530.1 C565.7,532.2 566.5,533.6 568.1,535.9 C569.7,538.2 572.0,541.3 573.9,544.1 C575.9,546.8 578.0,549.5 579.7,552.2 C581.5,554.9 583.1,558.3 584.4,560.4 C585.7,562.4 586.2,563.9 587.3,564.4 C588.5,564.9 590.1,563.0 591.4,563.3 C592.7,563.6 593.8,564.5 594.9,566.2 C596.0,567.8 596.9,571.6 597.8,573.2 C598.7,574.7 599.3,576.0 600.1,575.5 C601.0,575.0 602.0,572.2 603.0,570.3 C604.1,568.3 605.4,565.1 606.5,563.8 C607.7,562.6 608.9,562.6 610.0,562.7 C611.2,562.8 612.4,564.7 613.5,564.4 C614.7,564.1 615.8,562.9 617.0,560.9 C618.3,559.0 619.9,553.7 621.1,552.8 C622.3,551.9 623.0,553.8 624.0,555.7 C625.0,557.6 626.0,563.3 626.9,564.4 C627.8,565.6 628.5,564.9 629.2,562.7 C630.0,560.5 630.8,554.3 631.6,551.0 C632.3,547.7 633.0,544.6 633.9,542.9 C634.8,541.1 635.5,540.7 636.8,540.6 C638.1,540.5 639.9,543.1 641.5,542.3 C643.0,541.5 644.6,538.3 646.1,535.9 C647.7,533.5 649.2,530.4 650.8,527.7 C652.3,525.1 654.2,521.1 655.4,520.2 C656.7,519.3 657.2,520.7 658.4,522.5 C659.5,524.3 661.1,528.4 662.4,531.2 C663.8,534.1 665.3,537.5 666.5,539.4 C667.7,541.3 668.4,542.9 669.4,542.9 C670.4,542.9 671.2,541.2 672.3,539.4 C673.5,537.5 675.0,533.4 676.4,531.8 C677.8,530.3 679.1,530.0 680.5,530.1 C681.8,530.2 683.3,530.9 684.6,532.4 C685.8,534.0 687.1,537.6 688.0,539.4 C689.0,541.1 689.5,543.3 690.4,542.9 C691.3,542.5 692.2,539.0 693.3,537.1 C694.4,535.1 695.7,531.6 696.8,531.2 C697.9,530.9 698.7,533.0 699.7,534.7 C700.7,536.5 701.7,540.5 702.6,541.7 C703.5,543.0 704.1,543.5 704.9,542.3 C705.8,541.1 706.8,536.6 707.8,534.7 C708.9,532.9 710.3,531.2 711.3,531.2 C712.4,531.2 713.3,533.0 714.3,534.7 C715.2,536.5 716.1,540.2 717.2,541.7 C718.2,543.3 719.5,543.8 720.7,544.1 C721.8,544.3 723.0,544.4 724.2,543.5 C725.3,542.5 726.5,540.1 727.6,538.2 C728.8,536.4 730.2,533.5 731.1,532.4 C732.1,531.3 732.5,531.8 733.5,531.4 C734.5,531.1 735.8,530.0 737.0,530.3 C738.2,530.5 739.3,531.5 740.5,533.2 C741.6,534.8 742.8,538.5 744.0,540.2 C745.1,541.8 745.9,542.7 747.5,543.1 C749.0,543.5 751.2,542.6 753.3,542.5 C755.4,542.4 758.3,542.3 760.3,542.5 C762.2,542.7 763.6,544.0 764.9,543.6 C766.3,543.3 767.1,542.1 768.4,540.2 C769.8,538.2 771.7,533.6 773.1,532.0 C774.4,530.3 775.0,530.4 776.6,530.3 C778.1,530.1 779.3,530.7 782.4,530.8 C785.5,530.9 792.1,530.8 795.2,530.8 C798.3,530.8 799.5,530.3 801.0,530.8 C802.6,531.4 803.2,532.4 804.5,534.3 C805.9,536.3 807.8,540.0 809.2,542.5 C810.5,545.0 811.6,547.6 812.7,549.5 C813.8,551.3 814.6,553.5 815.6,553.5 C816.6,553.5 817.4,551.3 818.5,549.5 C819.6,547.6 820.9,543.8 822.0,542.5 C823.1,541.1 823.8,541.3 824.9,541.3 C826.0,541.3 827.1,543.3 828.4,542.5 C829.7,541.7 831.0,539.0 832.5,536.7 C833.9,534.3 835.8,530.8 837.1,528.5 C838.5,526.2 839.7,524.0 840.6,522.7 C841.6,521.3 842.2,520.2 843.0,520.4 C843.7,520.5 844.5,521.3 845.3,523.8 C846.1,526.4 846.8,532.4 847.6,535.5 C848.4,538.6 849.2,542.3 849.9,542.5 C850.7,542.7 851.5,539.6 852.3,536.7 C853.1,533.7 853.7,527.7 854.6,525.0 C855.5,522.3 856.5,520.5 857.5,520.4 C858.5,520.2 859.4,521.9 860.4,523.8 C861.5,525.8 862.8,529.5 863.9,532.0 C865.1,534.5 866.3,537.1 867.4,539.0 C868.6,540.8 869.7,543.1 870.9,543.1 C872.1,543.1 873.2,541.0 874.4,539.0 C875.6,536.9 876.5,533.4 877.9,530.8 C879.3,528.3 881.0,526.2 882.6,523.8 C884.1,521.5 885.7,519.2 887.2,516.9 C888.8,514.5 890.5,512.2 891.9,509.9 C893.2,507.5 894.3,504.7 895.4,502.9 C896.4,501.0 897.4,499.0 898.3,498.8 C899.2,498.6 899.9,499.9 900.6,501.7 C901.3,503.6 901.7,507.0 902.4,509.9 C903.0,512.8 903.8,517.2 904.7,519.2 C905.6,521.1 906.4,521.2 907.6,521.5 C908.8,521.8 910.4,520.5 911.7,520.9 C912.9,521.3 914.0,522.2 915.2,523.8 C916.3,525.5 917.5,528.5 918.7,530.8 C919.8,533.2 920.9,535.8 922.2,537.8 C923.4,539.9 924.9,543.1 926.2,543.1 C927.6,543.1 928.8,540.2 930.3,537.8 C931.8,535.4 933.4,531.1 935.0,528.5 C936.5,525.9 938.3,523.5 939.6,522.1 C941.0,520.7 941.9,520.5 943.1,520.4 C944.3,520.3 945.4,522.3 946.6,521.5 C947.8,520.7 948.9,517.6 950.1,515.7 C951.3,513.8 952.4,510.3 953.6,509.9 C954.8,509.5 955.8,511.4 957.1,513.4 C958.3,515.3 960.0,520.7 961.2,521.5 C962.3,522.3 962.8,520.2 964.1,518.0 C965.3,515.9 967.0,511.8 968.7,508.7 C970.5,505.6 973.0,500.6 974.6,499.4 C976.1,498.2 976.9,499.9 978.0,501.7 C979.2,503.6 980.5,509.9 981.5,510.5 C982.6,511.0 983.5,508.6 984.5,505.2 C985.4,501.8 986.5,492.9 987.4,490.1 C988.2,487.3 988.9,487.9 989.7,488.3 C990.5,488.7 991.2,489.6 992.0,492.4 C992.8,495.2 993.4,501.5 994.4,505.2 C995.3,508.9 996.5,511.8 997.8,514.5 C999.2,517.2 1001.1,521.5 1002.5,521.5 C1003.9,521.5 1004.9,518.0 1006.0,514.5 C1007.1,511.0 1008.1,503.1 1008.9,500.6 C1009.7,498.0 1009.8,498.4 1010.7,499.4 C1011.5,500.4 1013.0,504.5 1014.2,506.4 C1015.3,508.2 1016.3,509.9 1017.6,510.5 C1019.0,511.0 1020.9,509.4 1022.3,509.9 C1023.7,510.4 1024.3,511.5 1025.8,513.4 C1027.3,515.2 1029.6,520.6 1031.0,520.9 C1032.5,521.3 1033.2,517.4 1034.5,515.4 C1035.8,513.5 1037.0,510.0 1038.6,509.2 C1040.3,508.4 1042.6,510.9 1044.2,510.6 C1045.8,510.2 1046.6,509.3 1048.3,507.1 C1050.0,504.9 1052.3,500.7 1054.5,497.5 C1056.7,494.2 1059.4,490.8 1061.4,487.8 C1063.5,484.8 1065.2,483.0 1067.0,479.5 C1068.7,476.0 1070.4,469.3 1071.8,467.1 C1073.2,464.9 1074.0,466.4 1075.2,466.4 C1076.5,466.4 1078.1,467.9 1079.4,467.1 C1080.7,466.3 1081.7,463.4 1082.8,461.5 C1084.0,459.7 1085.1,456.0 1086.3,456.0 C1087.4,456.0 1088.6,459.6 1089.8,461.5 C1090.9,463.5 1091.9,467.5 1093.2,467.8 C1094.5,468.0 1096.0,465.1 1097.3,462.9 C1098.7,460.7 1099.9,457.4 1101.5,454.6 C1103.1,451.9 1105.2,449.2 1107.0,446.4 C1108.9,443.5 1110.8,439.4 1112.5,437.4 C1114.3,435.3 1115.9,434.2 1117.4,433.9 C1118.9,433.7 1120.3,434.6 1121.5,436.0 C1122.8,437.4 1123.8,440.6 1125.0,442.2 C1126.1,443.8 1127.2,445.9 1128.4,445.7 C1129.7,445.4 1131.1,443.2 1132.6,440.8 C1134.1,438.4 1135.8,433.9 1137.4,431.2 C1139.0,428.4 1140.9,425.5 1142.2,424.3 C1143.6,423.0 1144.5,423.6 1145.7,423.6 C1146.8,423.6 1148.0,425.1 1149.1,424.3 C1150.3,423.4 1151.3,420.6 1152.6,418.7 C1153.9,416.9 1155.1,414.1 1156.7,413.2 C1158.4,412.3 1160.4,413.0 1162.3,413.2 C1164.1,413.4 1166.3,414.8 1167.8,414.6 C1169.3,414.4 1170.2,414.6 1171.2,411.8 C1172.3,409.1 1173.0,401.3 1174.0,398.0 C1175.0,394.7 1176.3,392.0 1177.5,391.8 C1178.6,391.6 1179.8,394.6 1180.9,396.6 C1182.1,398.7 1182.9,401.6 1184.4,404.2 C1185.9,406.9 1188.3,409.9 1189.9,412.5 C1191.5,415.2 1192.7,418.2 1194.0,420.1 C1195.4,422.1 1196.6,423.6 1198.2,424.3 C1199.8,424.9 1201.7,423.9 1203.7,424.0 C1205.7,424.0 1208.1,425.1 1209.9,424.5 C1211.8,424.0 1213.3,422.7 1214.8,420.8 C1216.2,418.9 1217.5,416.8 1218.9,413.2 C1220.3,409.6 1221.7,403.8 1223.0,399.4 C1224.4,395.0 1225.8,390.1 1227.2,387.0 C1228.6,383.9 1229.9,381.2 1231.3,380.7 C1232.7,380.3 1234.2,382.4 1235.5,384.2 C1236.7,386.0 1237.8,391.3 1238.9,391.8 C1240.1,392.3 1241.0,388.8 1242.4,387.0 C1243.8,385.1 1245.4,381.8 1247.2,380.7 C1249.1,379.7 1251.2,380.7 1253.4,380.7 C1255.6,380.7 1258.3,380.6 1260.3,380.7 C1262.4,380.9 1264.2,382.5 1265.9,381.4 C1267.5,380.4 1268.7,376.5 1270.0,374.5 C1271.3,372.6 1272.3,369.2 1273.5,369.7 C1274.6,370.2 1275.8,373.7 1276.9,377.3 C1278.1,380.9 1279.2,390.4 1280.4,391.1 C1281.5,391.8 1282.7,385.0 1283.8,381.4 C1285.0,377.9 1286.1,370.4 1287.3,369.7 C1288.4,369.0 1289.5,373.6 1290.7,377.3 C1292.0,381.0 1293.7,390.0 1294.9,391.8 C1296.0,393.6 1296.5,390.2 1297.6,388.3 C1298.8,386.5 1300.4,381.2 1301.8,380.7 C1303.1,380.3 1304.5,383.4 1305.9,385.6 C1307.3,387.8 1309.0,392.0 1310.1,393.9 C1311.1,395.7 1311.5,395.2 1312.3,396.7 C1313.2,398.1 1314.2,402.5 1315.2,402.5 C1316.3,402.5 1317.6,398.5 1318.7,396.7 C1319.9,394.8 1321.1,391.4 1322.2,391.4 C1323.4,391.4 1324.7,394.8 1325.7,396.7 C1326.8,398.5 1327.7,402.3 1328.6,402.5 C1329.6,402.7 1330.6,400.9 1331.5,397.8 C1332.5,394.7 1333.4,386.8 1334.5,383.8 C1335.5,380.9 1336.4,380.7 1337.9,380.4 C1339.5,380.0 1341.9,381.3 1343.8,381.5 C1345.6,381.7 1347.6,382.3 1349.0,381.5 C1350.5,380.7 1351.2,378.8 1352.5,376.9 C1353.8,374.9 1355.3,371.0 1356.6,369.9 C1357.8,368.7 1358.7,369.9 1360.1,369.9 C1361.4,369.9 1363.4,370.7 1364.7,369.9 C1366.1,369.0 1366.9,367.0 1368.2,364.6 C1369.6,362.3 1371.1,358.7 1372.9,355.9 C1374.6,353.1 1377.0,350.3 1378.7,347.7 C1380.5,345.2 1381.9,343.3 1383.4,340.8 C1384.8,338.2 1386.1,334.8 1387.4,332.6 C1388.8,330.4 1390.4,327.8 1391.5,327.4 C1392.7,327.0 1393.5,328.8 1394.4,330.3 C1395.4,331.7 1396.1,334.6 1397.3,336.1 C1398.6,337.6 1400.4,338.8 1402.0,339.0 C1403.6,339.2 1405.3,338.5 1406.7,337.3 C1408.0,336.0 1409.2,333.1 1410.2,331.4 C1411.1,329.8 1411.6,327.4 1412.5,327.4 C1413.4,327.4 1414.2,329.6 1415.4,331.4 C1416.6,333.3 1418.2,338.0 1419.5,338.4 C1420.7,338.8 1421.8,335.6 1423.0,333.8 C1424.1,331.9 1425.3,327.8 1426.5,327.4 C1427.6,327.0 1428.8,329.7 1429.9,331.4 C1431.1,333.2 1432.3,337.8 1433.4,337.8 C1434.6,337.8 1435.9,333.2 1436.9,331.4 C1438.0,329.7 1438.9,327.4 1439.8,327.4 C1440.8,327.4 1441.9,328.8 1442.8,331.4 C1443.6,334.1 1444.2,340.2 1445.1,343.1 C1446.0,346.0 1446.6,348.0 1448.0,348.9 C1449.4,349.8 1451.8,347.7 1453.2,348.3 C1454.7,348.9 1455.6,350.7 1456.7,352.4 C1457.9,354.2 1459.1,357.5 1460.2,358.8 C1461.4,360.2 1462.5,360.4 1463.7,360.6 C1465.0,360.8 1466.5,359.2 1467.8,360.0 C1469.1,360.8 1470.1,363.5 1471.3,365.2 C1472.5,367.0 1473.6,370.5 1474.8,370.5 C1475.9,370.5 1477.0,367.2 1478.3,365.2 C1479.5,363.3 1480.7,359.7 1482.4,358.8 C1484.0,357.9 1486.6,360.3 1488.2,360.0 C1489.7,359.7 1490.3,358.9 1491.7,357.1 C1493.0,355.2 1494.6,351.7 1496.3,348.9 C1498.1,346.1 1500.2,343.1 1502.2,340.2 C1504.1,337.3 1506.2,334.3 1508.0,331.4 C1509.7,328.6 1511.3,325.6 1512.6,323.3 C1514.0,321.0 1514.9,318.8 1516.1,317.5 C1517.4,316.1 1518.8,315.1 1520.2,315.1 C1521.6,315.1 1523.0,316.1 1524.3,317.5 C1525.5,318.8 1526.4,321.1 1527.8,323.3 C1529.1,325.5 1530.7,328.1 1532.4,330.9 C1534.2,333.6 1536.3,336.8 1538.3,339.6 C1540.2,342.4 1542.3,344.8 1544.1,347.7 C1545.8,350.7 1547.4,354.9 1548.7,357.1 C1550.1,359.2 1551.0,360.1 1552.2,360.6 C1553.5,361.0 1555.1,359.8 1556.3,360.0 C1557.5,360.2 1558.1,360.3 1559.2,361.7 C1560.3,363.2 1561.6,367.3 1562.7,368.7 C1563.8,370.2 1564.6,371.0 1565.6,370.5 C1566.6,369.9 1567.5,367.2 1568.5,365.2 C1569.6,363.3 1570.8,360.1 1572.0,358.8 C1573.3,357.5 1574.7,357.4 1576.1,357.6 C1577.5,357.9 1578.7,358.7 1580.2,360.6 C1581.6,362.4 1583.3,366.0 1584.8,368.7 C1586.4,371.4 1587.9,374.7 1589.5,376.9 C1591.0,379.0 1592.6,380.7 1594.2,381.5 C1595.7,382.3 1597.1,381.7 1598.8,381.5 C1600.6,381.3 1603.1,380.0 1604.6,380.4 C1606.2,380.7 1607.0,382.0 1608.2,383.5 C1609.3,385.0 1610.5,387.8 1611.6,389.3 C1612.8,390.9 1614.0,392.2 1615.1,392.8 C1616.3,393.4 1617.5,393.2 1618.6,392.8 C1619.8,392.4 1621.0,391.8 1622.1,390.5 C1623.3,389.1 1624.5,386.1 1625.6,384.7 C1626.8,383.2 1627.6,382.2 1629.1,381.7 C1630.7,381.3 1632.0,382.0 1634.9,382.1 C1637.8,382.2 1643.1,382.1 1646.6,382.1 C1650.1,382.1 1653.6,382.2 1655.9,382.1 C1658.2,382.0 1659.3,381.3 1660.6,381.4 C1661.8,381.5 1662.4,381.7 1663.5,382.9 C1664.5,384.1 1665.9,387.2 1667.0,388.7 C1668.0,390.3 1668.8,391.7 1669.9,392.2 C1670.9,392.7 1672.2,391.7 1673.4,391.6 C1674.5,391.5 1675.9,390.9 1676.9,391.6 C1677.8,392.4 1678.4,394.0 1679.2,396.3 C1680.0,398.6 1680.7,402.9 1681.5,405.6 C1682.3,408.3 1683.0,411.1 1683.8,412.6 C1684.7,414.2 1685.7,414.7 1686.8,414.9 C1687.8,415.1 1689.2,414.5 1690.3,413.8 C1691.3,413.0 1692.1,411.9 1693.2,410.3 C1694.2,408.6 1695.5,405.4 1696.7,403.9 C1697.8,402.3 1698.9,401.3 1700.2,401.0 C1701.4,400.7 1702.9,401.2 1704.2,402.1 C1705.6,403.1 1707.0,404.8 1708.3,406.8 C1709.6,408.7 1710.4,411.4 1711.8,413.8 C1713.2,416.1 1714.7,418.1 1716.5,420.8 C1718.2,423.4 1720.3,426.6 1722.3,429.5 C1724.2,432.4 1726.2,435.3 1728.1,438.2 C1730.0,441.1 1732.0,444.1 1733.9,447.0 C1735.9,449.9 1737.8,452.8 1739.7,455.7 C1741.7,458.6 1744.0,461.7 1745.6,464.4 C1747.1,467.1 1747.9,469.8 1749.1,472.0 C1750.2,474.2 1751.4,476.7 1752.6,477.8 C1753.7,479.0 1755.0,478.9 1756.0,479.0 C1757.1,479.1 1758.0,478.0 1759.0,478.4 C1759.9,478.8 1760.9,479.9 1761.9,481.3 C1762.8,482.8 1763.9,485.9 1764.8,487.1 C1765.7,488.4 1766.3,489.0 1767.1,488.9 C1767.9,488.8 1768.6,487.8 1769.4,486.6 C1770.3,485.3 1771.3,483.3 1772.4,481.3 C1773.4,479.4 1774.7,476.9 1775.8,474.9 C1777.0,472.9 1778.3,470.7 1779.3,469.1 C1780.4,467.4 1781.3,466.7 1782.3,465.0 C1783.2,463.4 1784.3,460.6 1785.2,459.2 C1786.0,457.7 1786.6,456.3 1787.5,456.3 C1788.4,456.3 1789.4,457.5 1790.4,459.2 C1791.4,460.8 1792.4,464.9 1793.3,466.2 C1794.2,467.4 1794.9,467.5 1795.6,466.8 C1796.4,466.0 1797.1,463.3 1798.0,461.5 C1798.8,459.8 1799.9,456.7 1800.9,456.3 C1801.9,455.9 1802.8,457.7 1803.8,459.2 C1804.8,460.6 1805.7,463.5 1806.7,465.0 C1807.7,466.6 1808.4,468.0 1809.6,468.5 C1810.9,469.0 1812.3,468.0 1814.3,467.9 C1816.2,467.8 1819.1,467.8 1821.3,467.9 C1823.4,468.0 1825.6,468.8 1827.1,468.5 C1828.5,468.2 1829.0,467.5 1830.0,466.2 C1831.0,464.8 1831.9,462.0 1832.9,460.4 C1833.9,458.7 1834.9,456.5 1835.8,456.3 C1836.8,456.1 1837.7,457.5 1838.7,459.2 C1839.8,460.8 1841.1,463.8 1842.2,466.2 C1843.4,468.5 1844.5,471.1 1845.7,473.2 C1847.0,475.2 1848.4,477.3 1849.8,478.4 C1851.2,479.5 1852.4,479.9 1853.9,479.6 C1855.3,479.3 1857.1,478.3 1858.5,476.7 C1860.0,475.0 1861.2,471.4 1862.6,469.7 C1864.0,467.9 1865.3,466.7 1866.7,466.2 C1868.0,465.7 1869.4,466.0 1870.8,466.8 C1872.1,467.5 1873.6,469.0 1874.8,470.8 C1876.1,472.7 1877.4,475.5 1878.3,477.8 C1879.3,480.2 1879.9,482.2 1880.7,484.8 C1881.4,487.4 1882.1,491.0 1883.0,493.5 C1883.9,496.1 1884.9,498.7 1885.9,499.9 C1886.9,501.2 1887.7,501.3 1888.8,501.1 C1889.9,500.9 1891.3,499.7 1892.3,498.8 C1893.3,497.8 1893.5,497.1 1894.7,495.4 C1895.8,493.7 1897.8,489.8 1899.3,488.4 C1900.9,487.1 1901.6,487.4 1904.0,487.3 C1906.3,487.2 1910.6,487.8 1913.3,487.8 C1916.0,487.9 1918.3,487.9 1920.3,487.8 C1922.2,487.8 1923.6,486.8 1924.9,487.3 C1926.3,487.8 1927.3,488.9 1928.4,490.8 C1929.6,492.6 1931.0,497.0 1931.9,498.3 C1932.9,499.7 1933.5,499.6 1934.3,498.9 C1935.0,498.2 1935.6,496.0 1936.6,494.3 C1937.6,492.5 1938.8,489.7 1940.1,488.4 C1941.3,487.2 1942.8,486.5 1944.2,486.7 C1945.5,486.9 1946.8,487.9 1948.2,489.6 C1949.7,491.2 1951.1,493.9 1952.9,496.6 C1954.6,499.3 1956.8,502.8 1958.7,505.9 C1960.6,509.0 1962.8,512.5 1964.5,515.2 C1966.3,517.9 1968.0,519.5 1969.2,522.2 C1970.4,524.9 1970.7,528.4 1971.5,531.5 C1972.3,534.6 1973.1,539.0 1973.8,540.8 C1974.6,542.7 1975.2,543.4 1976.2,542.6 C1977.1,541.8 1978.3,538.8 1979.7,536.2 C1981.0,533.6 1982.8,529.5 1984.3,526.9 C1985.9,524.2 1987.6,521.6 1989.0,520.5 C1990.3,519.3 1991.1,519.9 1992.5,519.9 C1993.8,519.9 1995.6,520.5 1997.1,520.5 C1998.7,520.5 2000.4,519.2 2001.8,519.9 C2003.2,520.6 2004.1,522.6 2005.3,524.5 C2006.5,526.5 2007.4,530.1 2008.8,531.5 C2010.1,533.0 2011.9,533.7 2013.4,533.3 C2015.0,532.9 2016.5,531.3 2018.1,529.2 C2019.8,527.1 2022.0,521.4 2023.3,520.5 C2024.7,519.5 2025.2,521.7 2026.3,523.4 C2027.3,525.0 2028.4,527.8 2029.7,530.4 C2031.1,532.9 2032.9,536.4 2034.4,538.5 C2036.0,540.6 2037.3,542.6 2039.1,543.2 C2040.8,543.7 2042.9,542.2 2044.9,542.0 C2046.8,541.8 2048.8,542.1 2050.7,542.0 C2052.6,541.9 2055.0,540.8 2056.5,541.4 C2058.1,542.0 2058.9,543.7 2060.0,545.5 C2061.2,547.2 2062.3,550.4 2063.5,551.9 C2064.8,553.4 2065.8,553.9 2067.6,554.2 C2069.3,554.5 2071.8,553.7 2074.0,553.6 C2076.2,553.5 2079.0,553.8 2081.0,553.6 C2082.9,553.5 2084.3,551.9 2085.6,552.5 C2087.0,553.1 2087.9,555.3 2089.1,557.1 C2090.4,559.0 2091.9,562.2 2093.2,563.5 C2094.6,564.9 2095.8,565.6 2097.3,565.3 C2098.7,565.0 2100.4,563.8 2101.9,561.8 C2103.5,559.8 2105.2,553.8 2106.6,553.1 C2108.0,552.3 2108.9,555.3 2110.1,557.1 C2111.3,559.0 2112.4,563.7 2113.6,564.1 C2114.8,564.5 2115.7,561.4 2117.1,559.5 C2118.4,557.5 2120.0,553.5 2121.7,552.5 C2123.5,551.5 2125.8,554.6 2127.6,553.6 C2129.3,552.7 2130.7,550.0 2132.2,546.7 C2133.8,543.4 2135.6,537.9 2136.9,533.8 C2138.1,529.8 2138.9,524.5 2139.8,522.2 C2140.7,519.9 2141.3,519.3 2142.1,519.9 C2143.0,520.5 2144.0,523.8 2145.0,525.7 C2146.1,527.6 2147.4,531.5 2148.5,531.5 C2149.7,531.5 2150.8,527.6 2152.0,525.7 C2153.3,523.8 2154.5,520.6 2156.1,519.9 C2157.7,519.1 2159.9,521.4 2161.3,521.0 C2162.8,520.6 2163.5,519.4 2164.8,517.5 C2166.2,515.7 2168.1,510.4 2169.5,510.0 C2170.9,509.6 2171.8,513.4 2173.0,515.2 C2174.2,517.1 2175.1,519.9 2176.5,521.0 C2177.8,522.2 2179.6,522.2 2181.1,522.2 C2182.7,522.2 2183.1,521.1 2185.8,520.9 C2188.5,520.7 2194.6,521.0 2197.5,520.9 C2200.4,520.8 2201.7,519.7 2203.3,520.3 C2204.8,520.9 2205.5,522.6 2206.8,524.4 C2208.0,526.2 2209.5,531.2 2210.9,531.4 C2212.2,531.6 2213.7,527.4 2214.9,525.6 C2216.2,523.7 2217.3,521.4 2218.4,520.3 C2219.6,519.3 2220.7,518.9 2221.9,519.2 C2223.2,519.5 2224.7,520.4 2226.0,522.1 C2227.3,523.7 2228.4,527.5 2229.5,529.1 C2230.6,530.6 2231.3,532.0 2232.4,531.4 C2233.5,530.8 2234.8,527.3 2235.9,525.6 C2237.0,523.8 2237.8,521.1 2238.8,520.9 C2239.8,520.7 2240.6,522.7 2241.7,524.4 C2242.9,526.2 2244.4,531.2 2245.8,531.4 C2247.2,531.6 2248.6,527.4 2249.9,525.6 C2251.1,523.7 2251.8,521.0 2253.4,520.3 C2254.9,519.6 2257.6,522.2 2259.2,521.5 C2260.7,520.8 2261.4,518.2 2262.7,516.3 C2263.9,514.3 2265.2,510.8 2266.8,509.8 C2268.3,508.9 2270.5,510.9 2272.0,510.4 C2273.5,509.9 2274.1,508.9 2275.5,506.9 C2276.9,505.0 2278.7,499.4 2280.2,498.8 C2281.6,498.2 2282.9,501.5 2284.2,503.4 C2285.6,505.4 2286.8,508.1 2288.3,510.4 C2289.8,512.8 2291.4,514.9 2293.0,517.4 C2294.5,519.9 2296.3,523.2 2297.6,525.6 C2299.0,527.9 2299.9,531.2 2301.1,531.4 C2302.3,531.6 2303.2,528.7 2304.6,526.7 C2306.0,524.8 2307.7,521.0 2309.3,519.7 C2310.8,518.5 2312.0,519.3 2313.9,519.2 C2315.9,519.1 2318.8,518.7 2320.9,519.2 C2323.0,519.6 2325.0,522.4 2326.7,522.1 C2328.5,521.8 2329.8,519.6 2331.4,517.4 C2332.9,515.3 2334.7,509.8 2336.0,509.3 C2337.4,508.7 2338.4,511.9 2339.5,513.9 C2340.7,516.0 2342.1,520.9 2343.0,521.5 C2344.0,522.1 2344.6,520.0 2345.4,517.4 C2346.1,514.8 2346.7,509.3 2347.7,505.8 C2348.7,502.3 2349.8,499.3 2351.2,496.5 C2352.5,493.6 2354.5,490.3 2355.8,488.9 C2357.2,487.4 2358.0,487.7 2359.3,487.7 C2360.7,487.7 2362.4,489.8 2364.0,488.9 C2365.6,488.0 2367.1,484.9 2368.7,482.5 C2370.2,480.1 2371.8,476.9 2373.3,474.3 C2374.9,471.7 2376.6,467.1 2378.0,466.8 C2379.3,466.4 2380.3,470.1 2381.5,472.0 C2382.6,473.9 2383.6,477.2 2385.0,478.4 C2386.3,479.6 2388.1,479.9 2389.6,479.0 C2391.2,478.1 2392.8,475.2 2394.3,473.2 C2395.7,471.1 2397.0,467.0 2398.4,466.8 C2399.7,466.6 2401.2,470.1 2402.4,472.0 C2403.7,473.9 2404.7,477.0 2405.9,478.4 C2407.2,479.8 2408.6,480.6 2410.0,480.2 C2411.4,479.7 2413.0,477.8 2414.1,475.5 C2415.1,473.2 2415.6,469.3 2416.4,466.2 C2417.2,463.1 2417.8,458.6 2418.7,456.9 C2419.7,455.1 2420.9,455.9 2422.2,455.7 C2423.6,455.5 2425.5,456.5 2426.9,455.7 C2428.2,454.9 2429.0,452.8 2430.4,451.0 C2431.7,449.3 2433.3,446.2 2435.0,445.2 C2436.8,444.2 2437.8,445.2 2440.9,445.2 C2444.0,445.2 2450.5,445.3 2453.7,445.2 C2456.8,445.1 2458.1,443.9 2459.7,444.5 C2461.4,445.1 2462.1,447.0 2463.4,449.0 C2464.8,451.0 2466.6,456.1 2467.9,456.4 C2469.3,456.7 2470.2,452.6 2471.4,450.7 C2472.5,448.8 2473.8,445.1 2475.0,444.9 C2476.1,444.6 2477.2,447.4 2478.4,449.2 C2479.6,451.1 2480.9,455.8 2482.2,456.0 C2483.5,456.2 2484.8,452.1 2486.1,450.2 C2487.4,448.3 2488.5,445.2 2490.0,444.4 C2491.4,443.6 2493.3,445.8 2494.8,445.4 C2496.2,444.9 2497.4,443.4 2498.7,441.5 C2500.0,439.6 2501.2,435.7 2502.5,434.2 C2503.8,432.8 2504.9,432.6 2506.4,432.8 C2507.8,433.0 2509.9,434.2 2511.2,435.7 C2512.5,437.1 2513.2,439.9 2514.1,441.5 C2515.1,443.1 2516.1,445.5 2517.0,445.4 C2518.0,445.2 2518.8,442.4 2519.9,440.5 C2521.1,438.7 2522.2,435.2 2523.8,434.2 C2525.4,433.3 2528.0,435.3 2529.6,434.7 C2531.2,434.2 2532.2,432.6 2533.5,430.9 C2534.8,429.1 2536.0,426.5 2537.3,424.1 C2538.6,421.7 2539.9,418.4 2541.2,416.4 C2542.5,414.4 2543.8,412.8 2545.1,412.0 C2546.4,411.2 2547.6,411.1 2548.9,411.5 C2550.2,411.9 2551.7,412.8 2552.8,414.4 C2553.9,416.0 2554.8,419.6 2555.7,421.2 C2556.6,422.8 2557.1,424.3 2558.1,424.1 C2559.1,423.9 2560.3,422.2 2561.5,420.2 C2562.7,418.3 2563.9,415.1 2565.4,412.5 C2566.8,409.9 2568.7,407.2 2570.2,404.8 C2571.6,402.3 2572.8,400.1 2574.1,398.0 C2575.4,395.9 2576.8,393.4 2577.9,392.2 C2579.1,391.0 2579.5,390.9 2580.8,390.7 C2582.1,390.6 2583.9,391.0 2585.7,391.2 C2587.4,391.5 2589.9,392.4 2591.5,392.2 C2593.1,392.0 2594.0,391.2 2595.3,389.8 C2596.6,388.3 2597.9,385.7 2599.2,383.5 C2600.5,381.3 2601.8,379.0 2603.1,376.7 C2604.4,374.5 2605.8,370.6 2606.9,370.0 C2608.1,369.3 2608.9,371.4 2609.8,372.9 C2610.8,374.3 2611.8,377.2 2612.7,378.7 C2613.7,380.1 2614.3,381.2 2615.6,381.6 C2616.9,382.0 2618.7,381.0 2620.5,381.1 C2622.2,381.2 2624.7,382.5 2626.3,382.0 C2627.9,381.6 2628.8,380.7 2630.1,378.7 C2631.4,376.7 2632.7,370.9 2634.0,370.0 C2635.3,369.0 2636.7,371.3 2637.9,372.9 C2639.0,374.5 2639.6,377.5 2640.8,379.6 C2641.9,381.7 2643.3,383.5 2644.6,385.4 C2645.9,387.4 2647.9,390.3 2648.5,391.2" fill="none" stroke="#72c16c" stroke-width="4" stroke-linejoin="round" stroke-linecap="butt"/><text class="yl" x="133.5" y="311.7">23,0</text><text class="yl" x="133.5" y="365.5">22,5</text><text class="yl" x="133.5" y="419.2">22,0</text><text class="yl" x="133.5" y="473.0">21,5</text><text class="yl" x="133.5" y="526.8">21,0</text><text class="yl" x="133.5" y="580.6">20,5</text><text class="yl" x="133.5" y="634.4">20,0</text><text class="xl" x="156.4" y="671.4">14:18:20</text><text class="xl" x="572.9" y="671.4">18:18:20</text><text class="xl" x="989.4" y="671.4">22:18:20</text><text class="xl" x="1405.9" y="671.4">02:18:20</text><text class="xl" x="1822.4" y="671.4">06:18:20</text><text class="xl" x="2238.9" y="671.4">10:18:20</text><g stroke="rgba(255,255,255,0.1)" stroke-width="2"><line x1="120.4" y1="1048.00" x2="2648.7" y2="1048.00"/><line x1="120.4" y1="1095.00" x2="2648.7" y2="1095.00"/><line x1="120.4" y1="1141.00" x2="2648.7" y2="1141.00"/><line x1="120.4" y1="1187.00" x2="2648.7" y2="1187.00"/><line x1="120.4" y1="1233.00" x2="2648.7" y2="1233.00"/><line x1="120.4" y1="1279.00" x2="2648.7" y2="1279.00"/><line x1="120.4" y1="1325.00" x2="2648.7" y2="1325.00"/><line x1="120.4" y1="1371.00" x2="2648.7" y2="1371.00"/><line x1="136.40" y1="1048.1" x2="136.40" y2="1386.9"/><line x1="556.20" y1="1048.1" x2="556.20" y2="1386.9"/><line x1="976.00" y1="1048.1" x2="976.00" y2="1386.9"/><line x1="1395.80" y1="1048.1" x2="1395.80" y2="1386.9"/><line x1="1815.60" y1="1048.1" x2="1815.60" y2="1386.9"/><line x1="2235.40" y1="1048.1" x2="2235.40" y2="1386.9"/></g><path d="M136.4,1103.3 C136.9,1102.5 138.2,1100.1 139.3,1098.6 C140.4,1097.2 141.8,1094.9 142.8,1094.6 C143.8,1094.2 144.4,1094.7 145.1,1096.3 C145.9,1098.0 146.6,1102.5 147.5,1104.5 C148.3,1106.4 149.4,1107.9 150.4,1107.9 C151.4,1108.0 152.3,1105.7 153.3,1105.0 C154.3,1104.4 155.2,1103.4 156.2,1103.9 C157.2,1104.4 158.1,1105.7 159.1,1107.9 C160.1,1110.2 161.1,1114.0 162.0,1117.3 C163.0,1120.6 164.0,1124.4 164.9,1127.7 C165.9,1131.0 166.8,1134.8 167.8,1137.1 C168.9,1139.3 170.1,1140.9 171.3,1141.1 C172.6,1141.3 174.0,1139.7 175.4,1138.2 C176.9,1136.8 178.5,1134.3 180.1,1132.4 C181.6,1130.5 183.4,1127.2 184.7,1126.6 C186.1,1126.0 187.1,1127.6 188.2,1128.9 C189.4,1130.3 190.7,1132.4 191.7,1134.7 C192.8,1137.1 193.7,1140.2 194.6,1142.9 C195.6,1145.6 196.5,1148.7 197.5,1151.0 C198.6,1153.4 199.8,1155.5 201.0,1156.9 C202.3,1158.2 203.9,1159.6 205.1,1159.2 C206.3,1158.8 207.2,1156.9 208.0,1154.5 C208.9,1152.2 209.6,1147.5 210.4,1145.2 C211.1,1142.9 211.9,1140.6 212.7,1140.6 C213.5,1140.6 214.2,1142.5 215.0,1145.2 C215.8,1147.9 216.6,1153.6 217.3,1156.9 C218.1,1160.2 218.7,1162.9 219.7,1165.0 C220.6,1167.1 222.0,1168.4 223.2,1169.7 C224.3,1170.9 225.4,1171.9 226.7,1172.6 C227.9,1173.3 229.4,1174.0 230.7,1173.7 C232.1,1173.5 233.4,1172.5 234.8,1170.8 C236.3,1169.2 237.9,1165.6 239.5,1163.8 C241.0,1162.1 242.4,1161.3 244.1,1160.4 C245.9,1159.4 248.2,1158.2 249.9,1158.0 C251.7,1157.8 253.2,1158.5 254.6,1159.2 C256.0,1159.9 257.0,1161.3 258.1,1162.1 C259.2,1162.9 260.1,1164.3 261.0,1163.8 C261.9,1163.4 262.6,1161.5 263.3,1159.2 C264.1,1156.9 264.7,1152.3 265.7,1149.9 C266.6,1147.4 267.8,1145.6 269.2,1144.6 C270.5,1143.7 272.5,1143.4 273.8,1144.1 C275.2,1144.7 276.2,1146.2 277.3,1148.7 C278.4,1151.2 279.3,1156.7 280.2,1159.2 C281.2,1161.7 282.2,1164.0 283.1,1163.8 C284.1,1163.7 285.1,1159.6 286.0,1158.0 C287.0,1156.5 288.0,1154.3 289.0,1154.5 C289.9,1154.7 290.8,1156.5 291.9,1159.2 C292.9,1161.9 294.2,1167.0 295.4,1170.8 C296.5,1174.7 297.8,1179.3 298.9,1182.5 C299.9,1185.7 300.8,1188.6 301.8,1190.1 C302.7,1191.5 303.7,1192.1 304.7,1191.2 C305.7,1190.3 306.6,1186.3 307.6,1184.8 C308.6,1183.4 309.6,1181.7 310.5,1182.5 C311.4,1183.3 312.0,1186.8 312.8,1189.5 C313.7,1192.2 314.8,1196.8 315.7,1198.8 C316.7,1200.7 317.3,1201.5 318.7,1201.1 C320.0,1200.7 322.5,1196.5 323.9,1196.5 C325.3,1196.5 325.8,1198.4 326.8,1201.1 C327.8,1203.8 328.8,1209.8 329.7,1212.8 C330.7,1215.7 331.6,1218.8 332.6,1218.6 C333.7,1218.4 335.0,1214.5 336.1,1211.6 C337.3,1208.7 338.5,1204.4 339.6,1201.1 C340.8,1197.8 342.0,1194.2 343.1,1191.8 C344.2,1189.4 344.9,1187.7 346.0,1186.6 C347.2,1185.4 348.8,1185.9 350.1,1184.8 C351.4,1183.7 352.5,1183.6 353.6,1180.2 C354.7,1176.7 355.4,1167.3 356.5,1163.8 C357.6,1160.4 358.9,1159.0 360.0,1159.2 C361.1,1159.4 361.8,1162.9 362.9,1165.0 C364.0,1167.1 365.0,1170.4 366.4,1172.0 C367.8,1173.6 369.7,1174.5 371.1,1174.3 C372.4,1174.1 373.4,1172.6 374.6,1170.8 C375.7,1169.1 376.9,1165.8 378.0,1163.8 C379.2,1161.9 380.2,1160.7 381.5,1159.2 C382.9,1157.6 384.8,1154.5 386.2,1154.5 C387.6,1154.5 388.6,1156.3 389.7,1159.2 C390.8,1162.1 391.6,1168.9 392.6,1172.0 C393.6,1175.1 394.5,1177.4 395.5,1177.8 C396.6,1178.2 397.7,1176.3 399.0,1174.3 C400.3,1172.4 401.9,1169.1 403.1,1166.2 C404.3,1163.3 405.0,1159.5 406.0,1156.9 C407.0,1154.2 407.8,1150.8 408.9,1150.5 C410.0,1150.1 411.1,1151.9 412.4,1154.5 C413.7,1157.2 415.2,1161.9 416.5,1166.2 C417.7,1170.4 418.9,1176.7 420.0,1180.2 C421.0,1183.6 421.8,1187.2 422.9,1187.1 C424.0,1187.1 425.4,1181.6 426.6,1180.0 C427.8,1178.3 428.9,1176.7 429.9,1177.3 C431.0,1177.9 432.0,1180.2 433.1,1183.5 C434.1,1186.8 435.0,1192.8 436.2,1197.2 C437.3,1201.5 438.6,1206.1 439.9,1209.6 C441.1,1213.1 442.5,1217.5 443.6,1218.3 C444.8,1219.2 445.7,1217.3 446.7,1214.6 C447.8,1211.9 448.6,1205.9 449.8,1202.2 C451.1,1198.4 452.7,1194.8 454.2,1192.2 C455.6,1189.6 457.2,1187.8 458.5,1186.6 C459.9,1185.5 460.9,1185.1 462.3,1185.4 C463.6,1185.7 465.3,1186.5 466.6,1188.5 C468.0,1190.5 469.2,1193.7 470.4,1197.2 C471.5,1200.7 472.5,1205.5 473.5,1209.6 C474.4,1213.8 475.0,1218.2 475.9,1222.1 C476.9,1225.9 477.8,1231.2 479.1,1232.6 C480.3,1234.1 481.9,1231.9 483.4,1230.8 C485.0,1229.6 486.7,1227.7 488.4,1225.8 C490.0,1223.9 491.7,1221.2 493.4,1219.6 C495.0,1217.9 497.1,1216.9 498.3,1215.8 C499.6,1214.8 499.9,1215.4 500.8,1213.4 C501.7,1211.3 502.9,1206.3 503.9,1203.4 C505.0,1200.5 505.9,1197.4 507.0,1195.9 C508.2,1194.5 509.4,1194.5 510.8,1194.7 C512.1,1194.9 513.9,1195.3 515.1,1197.2 C516.4,1199.1 517.2,1203.2 518.2,1205.9 C519.3,1208.6 520.1,1211.5 521.3,1213.4 C522.6,1215.2 523.9,1215.8 525.7,1217.1 C527.4,1218.3 530.2,1219.6 531.9,1220.8 C533.6,1222.1 534.6,1222.7 535.6,1224.5 C536.7,1226.4 537.3,1229.3 538.1,1232.0 C538.9,1234.7 539.6,1238.2 540.6,1240.7 C541.6,1243.2 542.9,1244.9 544.3,1246.9 C545.8,1249.0 547.6,1251.1 549.3,1253.1 C551.0,1255.2 552.8,1257.3 554.3,1259.4 C555.7,1261.4 556.9,1263.3 558.0,1265.6 C559.1,1267.9 560.2,1271.7 561.1,1273.0 C562.0,1274.4 562.8,1274.7 563.6,1273.7 C564.4,1272.6 565.1,1269.2 566.1,1266.8 C567.1,1264.4 568.3,1261.2 569.8,1259.4 C571.4,1257.5 573.9,1255.6 575.4,1255.6 C577.0,1255.6 577.9,1257.7 579.1,1259.4 C580.4,1261.0 581.6,1265.4 582.9,1265.6 C584.1,1265.8 585.4,1263.5 586.6,1260.6 C587.8,1257.7 589.1,1251.9 590.3,1248.2 C591.6,1244.4 592.8,1240.8 594.1,1238.2 C595.3,1235.6 596.7,1232.6 597.8,1232.6 C598.9,1232.6 599.9,1235.8 600.9,1238.2 C601.9,1240.6 602.9,1244.9 604.0,1246.9 C605.2,1249.0 606.4,1249.9 607.7,1250.7 C609.1,1251.4 610.7,1251.7 612.1,1251.3 C613.4,1250.9 614.7,1249.0 615.8,1248.2 C617.0,1247.3 618.0,1245.7 618.9,1246.3 C619.9,1246.9 620.6,1248.9 621.4,1251.9 C622.2,1254.9 623.1,1261.2 623.9,1264.3 C624.7,1267.4 625.1,1269.1 626.4,1270.5 C627.6,1272.0 629.9,1271.6 631.4,1273.0 C632.8,1274.5 634.0,1276.6 635.1,1279.3 C636.2,1281.9 637.2,1286.8 638.2,1289.2 C639.2,1291.6 640.2,1293.5 641.3,1293.5 C642.5,1293.5 643.7,1290.5 645.0,1289.2 C646.4,1287.9 648.0,1286.5 649.4,1285.5 C650.7,1284.4 652.0,1282.8 653.1,1283.0 C654.3,1283.2 655.1,1285.1 656.2,1286.7 C657.4,1288.4 658.6,1291.7 660.0,1292.9 C661.3,1294.2 662.9,1294.4 664.3,1294.2 C665.8,1294.0 667.1,1293.3 668.7,1291.7 C670.2,1290.0 672.0,1286.2 673.6,1284.2 C675.3,1282.3 677.0,1280.9 678.6,1279.9 C680.3,1278.8 682.1,1278.3 683.6,1278.0 C685.0,1277.7 686.2,1277.2 687.3,1278.0 C688.5,1278.8 689.5,1280.5 690.4,1283.0 C691.4,1285.5 692.0,1290.4 692.9,1292.9 C693.8,1295.4 694.7,1297.9 696.0,1297.9 C697.4,1297.9 699.7,1293.5 701.0,1292.9 C702.2,1292.3 702.5,1292.5 703.5,1294.2 C704.4,1295.8 705.5,1300.7 706.6,1302.9 C707.6,1305.1 708.7,1307.4 709.7,1307.2 C710.7,1307.0 711.8,1304.4 712.8,1301.6 C713.8,1298.8 714.6,1292.9 715.9,1290.4 C717.2,1288.0 719.1,1287.1 720.6,1286.8 C722.2,1286.6 723.5,1288.1 725.2,1289.1 C726.8,1290.1 728.9,1293.3 730.5,1292.9 C732.2,1292.5 733.4,1288.9 735.1,1286.8 C736.7,1284.8 738.0,1282.3 740.4,1280.8 C742.8,1279.2 747.2,1277.5 749.5,1277.7 C751.8,1278.0 752.5,1279.8 754.1,1282.3 C755.6,1284.8 757.1,1292.9 758.6,1292.9 C760.1,1292.9 761.6,1286.8 763.2,1282.3 C764.7,1277.7 766.5,1270.4 767.7,1265.6 C769.0,1260.8 769.7,1255.7 770.8,1253.4 C771.8,1251.1 772.7,1250.1 773.8,1251.9 C774.9,1253.7 776.2,1260.3 777.6,1264.1 C779.0,1267.9 780.6,1272.2 782.2,1274.7 C783.7,1277.2 785.3,1280.0 786.7,1279.2 C788.1,1278.5 789.2,1272.7 790.5,1270.1 C791.8,1267.6 793.0,1264.6 794.3,1264.1 C795.6,1263.6 796.8,1266.3 798.1,1267.1 C799.4,1267.9 800.8,1270.1 801.9,1268.6 C803.0,1267.1 803.8,1261.0 804.9,1258.0 C806.1,1254.9 807.1,1251.5 808.7,1250.4 C810.4,1249.2 813.2,1252.2 814.8,1251.1 C816.5,1250.1 817.3,1247.5 818.6,1244.3 C819.9,1241.1 821.0,1236.5 822.4,1232.2 C823.8,1227.9 825.4,1222.0 827.0,1218.5 C828.5,1214.9 830.0,1212.9 831.5,1210.9 C833.0,1208.9 834.7,1209.1 836.1,1206.3 C837.5,1203.5 838.6,1198.7 839.9,1194.2 C841.1,1189.6 842.3,1184.1 843.7,1179.0 C845.1,1173.9 846.7,1168.6 848.2,1163.8 C849.8,1159.0 851.4,1153.3 852.8,1150.1 C854.2,1147.0 855.3,1144.8 856.6,1144.8 C857.9,1144.8 859.1,1148.5 860.4,1150.1 C861.7,1151.8 862.7,1154.4 864.2,1154.7 C865.7,1154.9 867.9,1153.2 869.5,1151.6 C871.1,1150.1 872.5,1147.5 874.1,1145.6 C875.6,1143.7 877.0,1140.5 878.6,1140.3 C880.3,1140.0 882.4,1141.6 883.9,1144.1 C885.5,1146.5 886.3,1151.1 887.7,1154.7 C889.1,1158.2 890.6,1162.9 892.3,1165.3 C893.9,1167.7 896.0,1169.4 897.6,1169.1 C899.3,1168.9 900.5,1165.7 902.2,1163.8 C903.8,1161.9 905.8,1158.6 907.5,1157.7 C909.1,1156.8 910.5,1157.2 912.0,1158.5 C913.6,1159.7 915.2,1162.9 916.6,1165.3 C918.0,1167.7 918.9,1170.9 920.4,1172.9 C921.9,1174.9 923.7,1176.7 925.7,1177.5 C927.7,1178.2 930.8,1176.7 932.5,1177.5 C934.3,1178.2 935.2,1180.0 936.3,1182.0 C937.5,1184.1 938.4,1188.0 939.4,1189.6 C940.4,1191.3 941.2,1192.2 942.4,1191.9 C943.7,1191.7 945.5,1190.3 947.0,1188.1 C948.5,1186.0 950.1,1181.6 951.5,1179.0 C952.9,1176.3 954.1,1172.7 955.3,1172.2 C956.6,1171.6 958.0,1175.1 959.1,1176.0 C960.3,1176.8 960.9,1178.5 962.2,1177.5 C963.4,1176.5 965.2,1173.4 966.7,1169.9 C968.2,1166.3 969.8,1161.0 971.3,1156.2 C972.8,1151.4 974.4,1146.1 975.8,1141.0 C977.2,1136.0 978.4,1129.9 979.6,1125.8 C980.9,1121.8 982.0,1117.5 983.4,1116.7 C984.8,1116.0 986.7,1120.8 988.0,1121.3 C989.3,1121.8 989.9,1121.5 991.0,1119.7 C992.2,1118.0 993.6,1112.9 994.8,1110.6 C996.1,1108.4 997.0,1107.4 998.6,1106.1 C1000.3,1104.8 1003.1,1104.4 1004.7,1102.9 C1006.2,1101.4 1007.0,1099.4 1008.2,1097.1 C1009.3,1094.7 1010.5,1091.6 1011.6,1088.9 C1012.8,1086.2 1014.0,1083.1 1015.1,1080.8 C1016.3,1078.4 1017.1,1077.1 1018.6,1074.9 C1020.2,1072.8 1022.9,1070.5 1024.5,1067.9 C1026.0,1065.4 1026.8,1062.3 1027.9,1059.8 C1029.1,1057.3 1030.4,1053.0 1031.4,1052.8 C1032.5,1052.6 1033.4,1055.9 1034.4,1058.6 C1035.3,1061.4 1036.4,1067.0 1037.3,1069.1 C1038.1,1071.2 1038.7,1072.0 1039.6,1071.4 C1040.5,1070.9 1041.5,1067.2 1042.5,1065.6 C1043.5,1064.1 1044.4,1061.9 1045.4,1062.1 C1046.4,1062.3 1047.4,1064.5 1048.3,1066.8 C1049.3,1069.1 1050.2,1072.8 1051.2,1076.1 C1052.3,1079.4 1053.4,1082.9 1054.7,1086.6 C1056.1,1090.3 1058.0,1094.3 1059.4,1098.2 C1060.8,1102.1 1061.6,1106.6 1062.9,1109.9 C1064.1,1113.2 1065.7,1117.6 1067.0,1118.0 C1068.2,1118.4 1069.4,1113.9 1070.5,1112.2 C1071.5,1110.6 1072.3,1107.9 1073.4,1108.1 C1074.4,1108.3 1075.7,1111.1 1076.9,1113.4 C1078.0,1115.6 1079.1,1118.8 1080.4,1121.5 C1081.6,1124.2 1083.1,1127.0 1084.4,1129.7 C1085.8,1132.4 1087.2,1135.1 1088.5,1137.8 C1089.8,1140.5 1090.6,1143.8 1092.0,1146.0 C1093.4,1148.1 1095.1,1150.0 1096.7,1150.6 C1098.2,1151.3 1100.0,1150.6 1101.3,1150.1 C1102.7,1149.5 1103.6,1148.0 1104.8,1147.1 C1106.0,1146.3 1107.2,1144.0 1108.3,1144.8 C1109.4,1145.6 1110.2,1148.3 1111.2,1151.8 C1112.2,1155.3 1113.3,1163.0 1114.1,1165.8 C1115.0,1168.6 1115.5,1168.9 1116.5,1168.7 C1117.4,1168.5 1118.6,1166.6 1119.9,1164.6 C1121.3,1162.6 1123.1,1159.0 1124.6,1156.5 C1126.2,1153.9 1127.9,1149.5 1129.3,1149.5 C1130.6,1149.5 1131.6,1153.3 1132.8,1156.5 C1133.9,1159.6 1135.2,1166.9 1136.3,1168.1 C1137.3,1169.3 1138.3,1166.0 1139.2,1163.4 C1140.0,1160.9 1140.6,1155.3 1141.5,1153.0 C1142.4,1150.6 1143.3,1148.7 1144.4,1149.5 C1145.5,1150.2 1146.7,1155.3 1147.9,1157.6 C1149.1,1159.9 1150.2,1162.2 1151.4,1163.4 C1152.6,1164.7 1153.5,1165.4 1154.9,1165.2 C1156.2,1165.0 1158.0,1163.7 1159.5,1162.3 C1161.1,1160.8 1162.6,1158.6 1164.2,1156.5 C1165.8,1154.3 1167.1,1151.6 1168.9,1149.5 C1170.6,1147.3 1172.9,1145.0 1174.7,1143.6 C1176.4,1142.3 1177.9,1142.5 1179.3,1141.3 C1180.8,1140.2 1182.1,1137.6 1183.4,1136.7 C1184.8,1135.7 1186.0,1135.1 1187.5,1135.5 C1188.9,1135.9 1190.8,1137.2 1192.2,1139.0 C1193.5,1140.7 1194.7,1143.1 1195.6,1146.0 C1196.6,1148.9 1197.2,1154.1 1198.0,1156.5 C1198.8,1158.8 1199.1,1159.6 1200.3,1159.9 C1201.5,1160.3 1203.6,1158.0 1205.0,1158.8 C1206.3,1159.6 1207.4,1161.9 1208.5,1164.6 C1209.5,1167.3 1210.4,1172.9 1211.4,1175.1 C1212.3,1177.3 1213.3,1178.6 1214.3,1178.0 C1215.2,1177.4 1216.2,1173.2 1217.2,1171.6 C1218.2,1169.9 1219.2,1167.9 1220.1,1168.1 C1221.0,1168.3 1221.6,1170.2 1222.4,1172.8 C1223.3,1175.3 1224.5,1180.8 1225.3,1183.2 C1226.2,1185.7 1226.8,1187.9 1227.7,1187.3 C1228.5,1186.7 1229.5,1182.2 1230.6,1179.7 C1231.6,1177.3 1232.7,1174.3 1234.1,1172.8 C1235.4,1171.2 1237.4,1171.4 1238.7,1170.4 C1240.1,1169.5 1241.1,1169.1 1242.2,1166.9 C1243.4,1164.8 1244.7,1159.8 1245.7,1157.6 C1246.8,1155.5 1247.7,1153.5 1248.6,1154.1 C1249.6,1154.7 1250.5,1158.8 1251.5,1161.1 C1252.6,1163.4 1254.1,1167.3 1255.0,1168.1 C1256.0,1168.9 1256.4,1168.3 1257.4,1165.8 C1258.3,1163.2 1259.5,1155.9 1260.9,1153.0 C1262.2,1150.1 1264.0,1148.9 1265.5,1148.3 C1267.1,1147.7 1268.8,1148.3 1270.2,1149.5 C1271.5,1150.6 1272.5,1153.0 1273.7,1155.3 C1274.8,1157.6 1276.0,1160.1 1277.2,1163.4 C1278.3,1166.7 1279.5,1172.0 1280.7,1175.1 C1281.8,1178.2 1283.0,1181.9 1284.2,1182.1 C1285.3,1182.3 1286.5,1177.8 1287.6,1176.3 C1288.8,1174.7 1290.0,1172.4 1291.1,1172.8 C1292.3,1173.1 1293.2,1175.4 1294.6,1178.6 C1296.1,1181.8 1298.2,1188.9 1299.9,1191.8 C1301.7,1194.7 1303.1,1195.4 1304.9,1196.2 C1306.8,1196.9 1309.1,1195.5 1311.1,1196.2 C1313.2,1196.8 1315.7,1198.0 1317.4,1199.9 C1319.0,1201.8 1320.0,1204.7 1321.1,1207.4 C1322.1,1210.0 1322.6,1214.1 1323.6,1216.1 C1324.5,1218.0 1325.2,1219.4 1326.7,1219.2 C1328.1,1219.0 1330.8,1215.1 1332.3,1214.8 C1333.7,1214.5 1334.1,1215.8 1335.4,1217.3 C1336.6,1218.8 1338.2,1222.4 1339.7,1223.5 C1341.3,1224.7 1342.6,1224.0 1344.7,1224.1 C1346.8,1224.2 1349.7,1224.3 1352.2,1224.1 C1354.7,1223.9 1357.6,1222.2 1359.6,1222.9 C1361.7,1223.6 1362.9,1226.5 1364.6,1228.5 C1366.3,1230.5 1367.9,1232.6 1369.6,1234.7 C1371.2,1236.8 1373.1,1238.4 1374.5,1240.9 C1376.0,1243.4 1377.0,1247.1 1378.3,1249.6 C1379.5,1252.1 1380.8,1254.6 1382.0,1255.8 C1383.2,1257.1 1384.5,1257.3 1385.7,1257.1 C1387.0,1256.9 1388.2,1256.2 1389.5,1254.6 C1390.7,1253.0 1391.7,1250.9 1393.2,1247.8 C1394.6,1244.7 1396.5,1239.6 1398.2,1235.9 C1399.8,1232.3 1401.6,1228.7 1403.1,1226.0 C1404.7,1223.3 1406.3,1221.0 1407.5,1219.8 C1408.7,1218.5 1409.5,1218.3 1410.6,1218.5 C1411.7,1218.8 1412.9,1219.6 1414.3,1221.0 C1415.8,1222.5 1417.6,1224.6 1419.3,1227.2 C1421.0,1229.9 1422.8,1234.3 1424.3,1237.2 C1425.7,1240.1 1426.9,1243.0 1428.0,1244.7 C1429.1,1246.3 1430.1,1247.2 1431.1,1247.1 C1432.2,1247.0 1433.2,1244.9 1434.2,1244.0 C1435.3,1243.2 1436.2,1241.9 1437.3,1242.2 C1438.5,1242.5 1439.7,1243.8 1441.1,1245.9 C1442.4,1248.0 1444.1,1251.5 1445.4,1254.6 C1446.8,1257.7 1447.9,1261.2 1449.1,1264.5 C1450.4,1267.9 1451.6,1271.2 1452.9,1274.5 C1454.1,1277.8 1455.4,1281.3 1456.6,1284.4 C1457.8,1287.5 1459.1,1290.4 1460.3,1293.1 C1461.6,1295.8 1462.8,1298.9 1464.1,1300.6 C1465.3,1302.3 1466.6,1302.8 1467.8,1303.1 C1469.0,1303.4 1470.3,1302.3 1471.5,1302.5 C1472.8,1302.7 1473.8,1303.2 1475.3,1304.3 C1476.7,1305.5 1478.8,1307.0 1480.2,1309.3 C1481.7,1311.6 1482.9,1316.0 1484.0,1318.0 C1485.0,1320.0 1485.6,1321.3 1486.4,1321.1 C1487.3,1320.9 1488.1,1319.6 1488.9,1316.8 C1489.8,1314.0 1490.4,1308.5 1491.4,1304.3 C1492.5,1300.2 1493.7,1295.4 1495.1,1291.9 C1496.6,1288.4 1498.7,1285.3 1500.1,1283.2 C1501.6,1281.1 1502.4,1280.3 1503.9,1279.5 C1505.3,1278.6 1507.2,1278.4 1508.8,1278.2 C1510.5,1278.0 1512.3,1277.4 1513.8,1278.2 C1515.2,1279.1 1516.3,1281.5 1517.5,1283.2 C1518.8,1284.9 1520.0,1288.8 1521.3,1288.2 C1522.5,1287.5 1523.7,1281.7 1525.0,1279.5 C1526.2,1277.2 1527.6,1274.5 1528.7,1274.5 C1529.9,1274.5 1530.8,1277.4 1531.8,1279.5 C1532.9,1281.5 1533.8,1285.3 1534.9,1286.9 C1536.1,1288.6 1537.2,1289.4 1538.7,1289.4 C1540.1,1289.4 1542.0,1288.6 1543.6,1286.9 C1545.3,1285.3 1547.2,1281.1 1548.6,1279.5 C1550.1,1277.8 1551.0,1277.2 1552.3,1277.0 C1553.7,1276.8 1555.4,1276.6 1556.7,1278.2 C1557.9,1279.9 1558.9,1283.4 1559.8,1286.9 C1560.7,1290.4 1561.5,1296.6 1562.3,1299.4 C1563.1,1302.2 1563.5,1302.7 1564.8,1303.7 C1566.0,1304.7 1568.3,1304.2 1569.7,1305.6 C1571.2,1306.9 1572.2,1309.1 1573.5,1311.8 C1574.7,1314.5 1576.0,1318.0 1577.2,1321.7 C1578.4,1325.5 1579.8,1330.5 1580.9,1334.2 C1582.1,1337.8 1583.0,1341.8 1584.0,1343.5 C1585.1,1345.2 1586.3,1344.6 1587.2,1344.1 C1588.0,1343.6 1588.2,1342.3 1589.3,1340.4 C1590.4,1338.5 1592.3,1336.5 1593.7,1332.9 C1595.0,1329.4 1596.2,1323.2 1597.4,1319.3 C1598.6,1315.3 1599.9,1312.0 1601.1,1309.3 C1602.4,1306.6 1603.4,1304.4 1604.9,1303.1 C1606.3,1301.7 1608.4,1301.0 1609.8,1301.2 C1611.3,1301.4 1612.4,1302.6 1613.6,1304.3 C1614.7,1306.1 1615.7,1309.9 1616.7,1311.8 C1617.6,1313.7 1618.3,1315.7 1619.2,1315.5 C1620.0,1315.3 1620.8,1313.2 1621.7,1310.5 C1622.5,1307.9 1623.2,1302.5 1624.1,1299.4 C1625.1,1296.3 1625.9,1294.2 1627.2,1291.9 C1628.6,1289.6 1630.7,1287.5 1632.2,1285.7 C1633.8,1283.8 1635.2,1281.7 1636.6,1280.7 C1637.9,1279.7 1639.2,1278.8 1640.3,1279.5 C1641.4,1280.1 1642.5,1282.4 1643.4,1284.4 C1644.3,1286.5 1645.1,1290.6 1645.9,1291.9 C1646.7,1293.2 1647.6,1293.8 1648.4,1292.5 C1649.2,1291.3 1649.9,1287.4 1650.9,1284.4 C1651.8,1281.4 1652.8,1276.4 1654.0,1274.5 C1655.1,1272.6 1656.5,1273.2 1657.7,1273.2 C1659.0,1273.2 1660.2,1275.3 1661.4,1274.5 C1662.7,1273.7 1664.0,1269.7 1665.2,1268.3 C1666.3,1266.8 1667.2,1265.2 1668.3,1265.8 C1669.3,1266.4 1670.3,1269.3 1671.4,1272.0 C1672.4,1274.7 1673.7,1280.1 1674.5,1282.0 C1675.3,1283.8 1675.6,1284.0 1676.4,1283.2 C1677.1,1282.4 1677.9,1279.7 1678.8,1277.0 C1679.8,1274.3 1680.8,1270.3 1682.0,1267.0 C1683.1,1263.7 1684.5,1259.7 1685.7,1257.1 C1686.8,1254.5 1687.8,1251.7 1688.8,1251.5 C1689.8,1251.3 1691.0,1253.5 1691.9,1255.8 C1692.8,1258.2 1693.5,1262.5 1694.4,1265.8 C1695.3,1269.1 1696.5,1272.6 1697.5,1275.7 C1698.5,1278.8 1699.7,1282.4 1700.6,1284.4 C1701.5,1286.5 1702.3,1288.0 1703.1,1288.2 C1703.9,1288.4 1704.6,1288.0 1705.6,1285.7 C1706.5,1283.4 1707.6,1277.3 1708.7,1274.5 C1709.7,1271.7 1710.4,1270.3 1711.8,1268.9 C1713.1,1267.4 1714.9,1266.9 1716.8,1265.8 C1718.6,1264.6 1720.9,1263.3 1723.0,1262.1 C1725.1,1260.8 1727.5,1259.6 1729.2,1258.3 C1730.9,1257.1 1731.7,1256.3 1732.9,1254.6 C1734.2,1252.9 1735.4,1249.8 1736.7,1248.4 C1737.9,1246.9 1739.1,1245.9 1740.4,1245.9 C1741.6,1245.9 1743.0,1246.9 1744.1,1248.4 C1745.3,1249.8 1746.3,1251.9 1747.2,1254.6 C1748.2,1257.3 1748.9,1261.3 1749.7,1264.5 C1750.5,1267.8 1751.4,1272.8 1752.2,1273.9 C1753.0,1274.9 1753.8,1273.8 1754.7,1270.8 C1755.6,1267.8 1756.8,1260.8 1757.8,1255.8 C1758.8,1250.9 1759.9,1245.5 1760.9,1240.9 C1761.9,1236.4 1763.0,1231.4 1764.0,1228.5 C1765.0,1225.6 1766.1,1223.7 1767.1,1223.5 C1768.2,1223.3 1769.1,1225.6 1770.2,1227.2 C1771.4,1228.9 1772.3,1231.8 1774.0,1233.5 C1775.6,1235.1 1778.5,1235.5 1780.2,1237.2 C1781.8,1238.9 1782.7,1241.1 1783.9,1243.4 C1785.1,1245.7 1786.6,1249.3 1787.6,1250.9 C1788.7,1252.4 1788.9,1252.5 1790.1,1252.7 C1791.4,1252.9 1793.4,1252.1 1795.1,1252.1 C1796.8,1252.1 1798.7,1252.9 1800.1,1252.7 C1801.4,1252.5 1802.1,1253.0 1803.2,1250.9 C1804.2,1248.7 1805.2,1243.6 1806.3,1239.7 C1807.3,1235.7 1808.4,1231.6 1809.4,1227.2 C1810.4,1222.9 1811.5,1217.2 1812.5,1213.6 C1813.5,1209.9 1814.6,1206.1 1815.6,1205.5 C1816.6,1204.9 1817.7,1207.7 1818.7,1209.8 C1819.8,1212.0 1820.7,1215.8 1821.8,1218.5 C1823.0,1221.2 1824.4,1224.2 1825.6,1226.0 C1826.7,1227.8 1827.7,1229.7 1828.7,1229.1 C1829.6,1228.5 1830.3,1225.3 1831.2,1222.3 C1832.0,1219.3 1832.6,1214.6 1833.6,1211.1 C1834.7,1207.6 1836.1,1204.0 1837.4,1201.1 C1838.6,1198.2 1839.6,1195.4 1841.1,1193.7 C1842.5,1191.9 1844.5,1190.8 1846.1,1190.6 C1847.6,1190.4 1849.2,1190.7 1850.4,1192.4 C1851.7,1194.2 1852.5,1198.3 1853.5,1201.1 C1854.6,1203.9 1855.4,1207.1 1856.6,1209.2 C1857.9,1211.3 1859.4,1212.5 1861.0,1213.6 C1862.5,1214.6 1864.4,1215.2 1866.0,1215.4 C1867.5,1215.6 1869.1,1214.3 1870.3,1214.8 C1871.6,1215.3 1872.4,1216.5 1873.4,1218.5 C1874.5,1220.6 1875.2,1226.8 1876.5,1227.2 C1877.8,1227.7 1880.0,1223.9 1881.2,1221.0 C1882.4,1218.1 1882.8,1212.5 1883.7,1209.8 C1884.5,1207.1 1885.2,1204.9 1886.2,1204.9 C1887.1,1204.9 1888.2,1207.8 1889.3,1209.8 C1890.3,1211.9 1891.0,1215.4 1892.4,1217.3 C1893.7,1219.2 1896.0,1219.6 1897.4,1221.0 C1898.7,1222.5 1899.5,1223.7 1900.5,1226.0 C1901.4,1228.3 1902.1,1231.6 1902.9,1234.7 C1903.8,1237.8 1904.3,1242.0 1905.4,1244.7 C1906.6,1247.3 1908.2,1249.7 1909.8,1250.9 C1911.3,1252.0 1913.1,1251.9 1914.8,1251.5 C1916.4,1251.1 1918.3,1250.1 1919.7,1248.4 C1921.2,1246.6 1922.2,1244.0 1923.5,1240.9 C1924.7,1237.8 1925.9,1233.3 1927.2,1229.7 C1928.4,1226.2 1929.7,1222.4 1930.9,1219.8 C1932.2,1217.2 1933.4,1214.6 1934.7,1214.2 C1935.9,1213.8 1937.1,1215.5 1938.4,1217.3 C1939.6,1219.1 1940.7,1222.1 1942.1,1224.8 C1943.6,1227.5 1945.6,1230.4 1947.1,1233.5 C1948.5,1236.6 1949.6,1240.1 1950.8,1243.4 C1952.1,1246.7 1953.3,1250.8 1954.5,1253.4 C1955.8,1255.9 1957.0,1257.7 1958.3,1259.0 C1959.5,1260.2 1960.8,1261.5 1962.0,1260.8 C1963.2,1260.1 1964.5,1257.1 1965.7,1254.6 C1967.0,1252.1 1968.2,1248.4 1969.5,1245.9 C1970.7,1243.4 1971.7,1241.2 1973.2,1239.7 C1974.6,1238.1 1976.5,1236.9 1978.2,1236.6 C1979.8,1236.3 1981.7,1238.3 1983.1,1237.8 C1984.6,1237.3 1985.6,1235.0 1986.9,1233.5 C1988.1,1231.9 1989.5,1228.7 1990.6,1228.5 C1991.7,1228.3 1992.7,1230.1 1993.7,1232.2 C1994.7,1234.3 1995.5,1238.9 1996.8,1240.9 C1998.2,1243.0 2000.3,1243.4 2001.8,1244.7 C2003.2,1245.9 2004.4,1246.5 2005.5,1248.4 C2006.7,1250.2 2007.6,1253.8 2008.6,1255.8 C2009.7,1257.9 2010.6,1260.4 2011.7,1260.8 C2012.9,1261.2 2014.2,1259.2 2015.5,1258.3 C2016.7,1257.5 2018.0,1255.6 2019.2,1255.8 C2020.4,1256.0 2021.7,1257.7 2022.9,1259.6 C2024.2,1261.4 2025.4,1264.3 2026.7,1267.0 C2027.9,1269.7 2029.2,1272.6 2030.4,1275.7 C2031.5,1278.8 2032.5,1282.4 2033.5,1285.7 C2034.5,1289.0 2035.6,1292.9 2036.6,1295.6 C2037.6,1298.3 2038.7,1301.6 2039.7,1301.8 C2040.7,1302.1 2041.7,1299.2 2042.8,1296.9 C2044.0,1294.6 2045.4,1288.6 2046.6,1288.2 C2047.7,1287.8 2048.7,1291.9 2049.7,1294.4 C2050.6,1296.9 2051.3,1301.1 2052.1,1303.1 C2053.0,1305.1 2053.7,1306.8 2054.6,1306.2 C2055.6,1305.6 2056.6,1301.5 2057.7,1299.4 C2058.9,1297.2 2060.0,1294.2 2061.5,1293.1 C2062.9,1292.1 2065.0,1293.5 2066.4,1293.1 C2067.9,1292.8 2068.8,1292.1 2070.2,1291.3 C2071.5,1290.4 2073.1,1288.1 2074.5,1288.2 C2076.0,1288.3 2077.3,1290.0 2078.9,1291.9 C2080.4,1293.8 2082.3,1297.0 2083.9,1299.4 C2085.4,1301.7 2086.8,1306.0 2088.2,1306.2 C2089.7,1306.4 2091.2,1303.4 2092.6,1300.6 C2093.9,1297.8 2095.0,1292.9 2096.3,1289.4 C2097.5,1285.9 2098.9,1282.0 2100.0,1279.5 C2101.2,1277.0 2102.1,1274.5 2103.1,1274.5 C2104.2,1274.5 2105.2,1278.0 2106.2,1279.5 C2107.3,1280.9 2108.2,1283.6 2109.3,1283.2 C2110.5,1282.8 2111.9,1278.4 2113.1,1277.0 C2114.2,1275.5 2115.1,1274.1 2116.2,1274.5 C2117.2,1274.9 2118.2,1277.4 2119.3,1279.5 C2120.3,1281.5 2121.0,1285.5 2122.4,1286.9 C2123.7,1288.4 2125.9,1287.8 2127.4,1288.2 C2128.8,1288.6 2130.0,1288.0 2131.1,1289.4 C2132.2,1290.9 2133.2,1294.8 2134.2,1296.9 C2135.2,1298.9 2136.2,1301.8 2137.3,1301.8 C2138.5,1301.8 2139.9,1298.3 2141.0,1296.9 C2142.2,1295.4 2143.2,1292.7 2144.2,1293.1 C2145.1,1293.6 2145.7,1296.5 2146.6,1299.4 C2147.6,1302.3 2148.8,1308.6 2149.7,1310.5 C2150.7,1312.5 2151.3,1312.6 2152.2,1311.2 C2153.2,1309.7 2154.3,1304.2 2155.3,1301.8 C2156.4,1299.5 2157.3,1297.3 2158.4,1296.9 C2159.6,1296.5 2160.9,1298.5 2162.2,1299.4 C2163.4,1300.2 2164.0,1303.9 2165.9,1301.8 C2167.8,1299.8 2171.8,1291.3 2173.7,1286.9 C2175.6,1282.6 2176.1,1279.3 2177.4,1275.7 C2178.8,1272.2 2180.3,1268.3 2181.8,1265.8 C2183.2,1263.3 2184.8,1260.6 2186.1,1260.8 C2187.5,1261.0 2188.6,1264.8 2189.8,1267.0 C2191.1,1269.3 2192.3,1274.5 2193.6,1274.5 C2194.8,1274.5 2196.1,1270.3 2197.3,1267.0 C2198.5,1263.7 2199.8,1258.7 2201.0,1254.6 C2202.3,1250.5 2203.5,1245.1 2204.8,1242.2 C2206.0,1239.3 2207.0,1237.4 2208.5,1237.2 C2209.9,1237.0 2211.9,1239.1 2213.5,1240.9 C2215.0,1242.8 2216.5,1245.9 2217.8,1248.4 C2219.2,1250.9 2220.2,1254.4 2221.5,1255.8 C2222.9,1257.3 2224.4,1257.7 2225.9,1257.1 C2227.3,1256.5 2228.8,1254.6 2230.2,1252.1 C2231.7,1249.6 2233.0,1244.4 2234.6,1242.2 C2236.2,1239.9 2237.9,1239.5 2239.6,1238.4 C2241.2,1237.4 2242.9,1236.9 2244.5,1235.9 C2246.2,1235.0 2248.1,1234.5 2249.5,1232.8 C2251.0,1231.2 2252.0,1228.3 2253.2,1226.0 C2254.5,1223.7 2255.7,1219.7 2257.0,1219.2 C2258.2,1218.6 2259.4,1220.9 2260.7,1222.9 C2262.1,1224.9 2263.8,1227.8 2265.1,1231.0 C2266.3,1234.2 2267.1,1239.5 2268.2,1242.2 C2269.2,1244.9 2270.2,1247.3 2271.3,1247.1 C2272.3,1246.9 2273.3,1242.5 2274.4,1240.9 C2275.4,1239.4 2276.5,1237.4 2277.5,1237.8 C2278.5,1238.2 2279.5,1241.1 2280.6,1243.4 C2281.7,1245.7 2283.1,1251.3 2284.3,1251.5 C2285.6,1251.7 2286.8,1247.0 2288.1,1244.7 C2289.3,1242.3 2290.5,1238.6 2291.8,1237.2 C2293.0,1235.7 2294.2,1235.7 2295.5,1235.9 C2296.9,1236.2 2298.6,1236.8 2299.9,1238.4 C2301.1,1240.1 2301.9,1243.7 2303.0,1245.9 C2304.0,1248.1 2305.1,1251.3 2306.1,1251.5 C2307.1,1251.7 2308.1,1248.7 2309.2,1247.1 C2310.3,1245.6 2311.5,1243.0 2312.9,1242.2 C2314.4,1241.3 2316.5,1242.6 2317.9,1242.2 C2319.4,1241.8 2320.2,1240.5 2321.6,1239.7 C2323.1,1238.9 2325.2,1236.8 2326.6,1237.2 C2328.1,1237.6 2329.1,1240.5 2330.3,1242.2 C2331.6,1243.8 2332.6,1245.7 2334.1,1247.1 C2335.5,1248.6 2337.6,1250.0 2339.0,1250.9 C2340.5,1251.7 2341.3,1251.9 2342.8,1252.1 C2344.2,1252.3 2346.3,1251.7 2347.7,1252.1 C2349.2,1252.5 2350.3,1253.9 2351.5,1254.6 C2352.6,1255.3 2353.3,1256.7 2354.6,1256.5 C2355.8,1256.3 2357.4,1254.5 2358.9,1253.4 C2360.5,1252.2 2362.3,1250.8 2363.9,1249.6 C2365.5,1248.5 2367.0,1246.1 2368.3,1246.5 C2369.5,1246.9 2370.4,1249.1 2371.4,1252.1 C2372.3,1255.1 2373.0,1261.4 2373.9,1264.5 C2374.7,1267.7 2375.1,1269.1 2376.3,1270.8 C2377.6,1272.4 2379.4,1273.0 2381.3,1274.5 C2383.2,1275.9 2385.9,1277.8 2387.5,1279.5 C2389.2,1281.1 2390.2,1282.4 2391.3,1284.4 C2392.3,1286.5 2392.9,1290.4 2393.7,1291.9 C2394.6,1293.3 2395.4,1294.0 2396.2,1293.1 C2397.1,1292.3 2397.7,1289.4 2398.7,1286.9 C2399.8,1284.4 2401.2,1280.1 2402.4,1278.2 C2403.7,1276.4 2404.7,1276.6 2406.2,1275.7 C2407.6,1274.9 2409.8,1274.5 2411.2,1273.2 C2412.5,1272.0 2413.2,1269.6 2414.3,1268.3 C2415.3,1266.9 2416.3,1265.0 2417.4,1265.2 C2418.4,1265.4 2419.6,1267.3 2420.5,1269.5 C2421.3,1271.7 2421.6,1275.7 2422.3,1278.2 C2423.1,1280.7 2423.9,1284.4 2424.8,1284.4 C2425.8,1284.4 2426.9,1280.7 2427.9,1278.2 C2429.0,1275.7 2430.0,1270.1 2431.0,1269.5 C2432.1,1268.9 2433.1,1271.2 2434.2,1274.5 C2435.2,1277.8 2436.3,1285.9 2437.3,1289.4 C2438.2,1292.9 2438.5,1294.2 2439.7,1295.6 C2441.0,1297.1 2443.3,1296.9 2444.7,1298.1 C2446.2,1299.4 2447.2,1301.6 2448.4,1303.1 C2449.7,1304.6 2450.8,1307.3 2452.2,1307.0 C2453.5,1306.8 2455.2,1304.4 2456.6,1301.7 C2458.0,1298.9 2459.3,1294.3 2460.4,1290.6 C2461.5,1286.9 2462.2,1282.9 2463.2,1279.6 C2464.2,1276.2 2465.0,1273.1 2466.5,1270.7 C2468.0,1268.3 2470.4,1265.2 2472.0,1265.2 C2473.7,1265.2 2475.2,1268.0 2476.5,1270.7 C2477.8,1273.5 2478.7,1278.5 2479.8,1281.8 C2480.9,1285.1 2481.8,1287.9 2483.1,1290.6 C2484.4,1293.3 2486.0,1297.1 2487.5,1297.8 C2489.0,1298.5 2490.3,1296.2 2491.9,1295.0 C2493.6,1293.8 2495.6,1291.9 2497.5,1290.6 C2499.3,1289.3 2501.1,1288.4 2503.0,1287.3 C2504.8,1286.2 2507.0,1285.6 2508.5,1284.0 C2510.0,1282.3 2510.7,1279.9 2511.8,1277.3 C2512.9,1274.8 2514.0,1271.3 2515.1,1268.5 C2516.2,1265.7 2517.3,1262.9 2518.5,1260.8 C2519.7,1258.7 2521.0,1256.0 2522.3,1255.8 C2523.6,1255.6 2525.0,1258.1 2526.2,1259.7 C2527.4,1261.2 2528.0,1263.7 2529.5,1265.2 C2531.0,1266.7 2533.6,1267.2 2535.0,1268.5 C2536.5,1269.8 2537.2,1270.9 2538.3,1272.9 C2539.4,1275.0 2540.7,1278.8 2541.7,1280.7 C2542.6,1282.5 2542.9,1284.3 2543.9,1284.0 C2544.8,1283.6 2546.1,1280.1 2547.2,1278.5 C2548.3,1276.8 2549.4,1273.8 2550.5,1274.0 C2551.6,1274.2 2552.7,1277.2 2553.8,1279.6 C2554.9,1282.0 2556.1,1287.7 2557.1,1288.4 C2558.1,1289.1 2559.0,1286.2 2559.9,1284.0 C2560.8,1281.8 2561.6,1276.9 2562.7,1275.1 C2563.7,1273.4 2564.7,1273.3 2566.0,1273.5 C2567.3,1273.7 2569.0,1274.5 2570.4,1276.2 C2571.8,1278.0 2573.1,1280.8 2574.3,1284.0 C2575.5,1287.1 2576.4,1292.1 2577.6,1295.0 C2578.8,1298.0 2580.1,1299.8 2581.4,1301.7 C2582.8,1303.5 2584.6,1304.1 2585.9,1306.1 C2587.1,1308.1 2588.1,1311.4 2589.2,1313.8 C2590.3,1316.2 2591.5,1320.1 2592.5,1320.4 C2593.5,1320.8 2594.3,1318.6 2595.2,1316.0 C2596.2,1313.4 2596.8,1308.5 2598.0,1305.0 C2599.2,1301.5 2601.1,1297.8 2602.4,1295.0 C2603.7,1292.3 2604.6,1289.7 2605.7,1288.4 C2606.9,1287.1 2607.8,1287.3 2609.1,1287.3 C2610.3,1287.3 2612.2,1289.3 2613.5,1288.4 C2614.8,1287.5 2615.7,1284.0 2616.8,1281.8 C2617.9,1279.6 2619.0,1276.4 2620.1,1275.1 C2621.2,1273.8 2622.1,1273.7 2623.4,1274.0 C2624.7,1274.4 2626.6,1275.3 2627.8,1277.3 C2629.1,1279.4 2630.1,1282.9 2631.2,1286.2 C2632.3,1289.5 2633.4,1295.1 2634.5,1297.2 C2635.6,1299.4 2636.5,1298.8 2637.8,1298.9 C2639.1,1299.0 2640.4,1298.0 2642.2,1297.8 C2644.0,1297.6 2647.6,1297.8 2648.6,1297.8 L2648.6,1370.9 L136.4,1370.9 Z" fill="rgba(90,154,245,0.1)" stroke="none"/><path d="M136.4,1103.3 C136.9,1102.5 138.2,1100.1 139.3,1098.6 C140.4,1097.2 141.8,1094.9 142.8,1094.6 C143.8,1094.2 144.4,1094.7 145.1,1096.3 C145.9,1098.0 146.6,1102.5 147.5,1104.5 C148.3,1106.4 149.4,1107.9 150.4,1107.9 C151.4,1108.0 152.3,1105.7 153.3,1105.0 C154.3,1104.4 155.2,1103.4 156.2,1103.9 C157.2,1104.4 158.1,1105.7 159.1,1107.9 C160.1,1110.2 161.1,1114.0 162.0,1117.3 C163.0,1120.6 164.0,1124.4 164.9,1127.7 C165.9,1131.0 166.8,1134.8 167.8,1137.1 C168.9,1139.3 170.1,1140.9 171.3,1141.1 C172.6,1141.3 174.0,1139.7 175.4,1138.2 C176.9,1136.8 178.5,1134.3 180.1,1132.4 C181.6,1130.5 183.4,1127.2 184.7,1126.6 C186.1,1126.0 187.1,1127.6 188.2,1128.9 C189.4,1130.3 190.7,1132.4 191.7,1134.7 C192.8,1137.1 193.7,1140.2 194.6,1142.9 C195.6,1145.6 196.5,1148.7 197.5,1151.0 C198.6,1153.4 199.8,1155.5 201.0,1156.9 C202.3,1158.2 203.9,1159.6 205.1,1159.2 C206.3,1158.8 207.2,1156.9 208.0,1154.5 C208.9,1152.2 209.6,1147.5 210.4,1145.2 C211.1,1142.9 211.9,1140.6 212.7,1140.6 C213.5,1140.6 214.2,1142.5 215.0,1145.2 C215.8,1147.9 216.6,1153.6 217.3,1156.9 C218.1,1160.2 218.7,1162.9 219.7,1165.0 C220.6,1167.1 222.0,1168.4 223.2,1169.7 C224.3,1170.9 225.4,1171.9 226.7,1172.6 C227.9,1173.3 229.4,1174.0 230.7,1173.7 C232.1,1173.5 233.4,1172.5 234.8,1170.8 C236.3,1169.2 237.9,1165.6 239.5,1163.8 C241.0,1162.1 242.4,1161.3 244.1,1160.4 C245.9,1159.4 248.2,1158.2 249.9,1158.0 C251.7,1157.8 253.2,1158.5 254.6,1159.2 C256.0,1159.9 257.0,1161.3 258.1,1162.1 C259.2,1162.9 260.1,1164.3 261.0,1163.8 C261.9,1163.4 262.6,1161.5 263.3,1159.2 C264.1,1156.9 264.7,1152.3 265.7,1149.9 C266.6,1147.4 267.8,1145.6 269.2,1144.6 C270.5,1143.7 272.5,1143.4 273.8,1144.1 C275.2,1144.7 276.2,1146.2 277.3,1148.7 C278.4,1151.2 279.3,1156.7 280.2,1159.2 C281.2,1161.7 282.2,1164.0 283.1,1163.8 C284.1,1163.7 285.1,1159.6 286.0,1158.0 C287.0,1156.5 288.0,1154.3 289.0,1154.5 C289.9,1154.7 290.8,1156.5 291.9,1159.2 C292.9,1161.9 294.2,1167.0 295.4,1170.8 C296.5,1174.7 297.8,1179.3 298.9,1182.5 C299.9,1185.7 300.8,1188.6 301.8,1190.1 C302.7,1191.5 303.7,1192.1 304.7,1191.2 C305.7,1190.3 306.6,1186.3 307.6,1184.8 C308.6,1183.4 309.6,1181.7 310.5,1182.5 C311.4,1183.3 312.0,1186.8 312.8,1189.5 C313.7,1192.2 314.8,1196.8 315.7,1198.8 C316.7,1200.7 317.3,1201.5 318.7,1201.1 C320.0,1200.7 322.5,1196.5 323.9,1196.5 C325.3,1196.5 325.8,1198.4 326.8,1201.1 C327.8,1203.8 328.8,1209.8 329.7,1212.8 C330.7,1215.7 331.6,1218.8 332.6,1218.6 C333.7,1218.4 335.0,1214.5 336.1,1211.6 C337.3,1208.7 338.5,1204.4 339.6,1201.1 C340.8,1197.8 342.0,1194.2 343.1,1191.8 C344.2,1189.4 344.9,1187.7 346.0,1186.6 C347.2,1185.4 348.8,1185.9 350.1,1184.8 C351.4,1183.7 352.5,1183.6 353.6,1180.2 C354.7,1176.7 355.4,1167.3 356.5,1163.8 C357.6,1160.4 358.9,1159.0 360.0,1159.2 C361.1,1159.4 361.8,1162.9 362.9,1165.0 C364.0,1167.1 365.0,1170.4 366.4,1172.0 C367.8,1173.6 369.7,1174.5 371.1,1174.3 C372.4,1174.1 373.4,1172.6 374.6,1170.8 C375.7,1169.1 376.9,1165.8 378.0,1163.8 C379.2,1161.9 380.2,1160.7 381.5,1159.2 C382.9,1157.6 384.8,1154.5 386.2,1154.5 C387.6,1154.5 388.6,1156.3 389.7,1159.2 C390.8,1162.1 391.6,1168.9 392.6,1172.0 C393.6,1175.1 394.5,1177.4 395.5,1177.8 C396.6,1178.2 397.7,1176.3 399.0,1174.3 C400.3,1172.4 401.9,1169.1 403.1,1166.2 C404.3,1163.3 405.0,1159.5 406.0,1156.9 C407.0,1154.2 407.8,1150.8 408.9,1150.5 C410.0,1150.1 411.1,1151.9 412.4,1154.5 C413.7,1157.2 415.2,1161.9 416.5,1166.2 C417.7,1170.4 418.9,1176.7 420.0,1180.2 C421.0,1183.6 421.8,1187.2 422.9,1187.1 C424.0,1187.1 425.4,1181.6 426.6,1180.0 C427.8,1178.3 428.9,1176.7 429.9,1177.3 C431.0,1177.9 432.0,1180.2 433.1,1183.5 C434.1,1186.8 435.0,1192.8 436.2,1197.2 C437.3,1201.5 438.6,1206.1 439.9,1209.6 C441.1,1213.1 442.5,1217.5 443.6,1218.3 C444.8,1219.2 445.7,1217.3 446.7,1214.6 C447.8,1211.9 448.6,1205.9 449.8,1202.2 C451.1,1198.4 452.7,1194.8 454.2,1192.2 C455.6,1189.6 457.2,1187.8 458.5,1186.6 C459.9,1185.5 460.9,1185.1 462.3,1185.4 C463.6,1185.7 465.3,1186.5 466.6,1188.5 C468.0,1190.5 469.2,1193.7 470.4,1197.2 C471.5,1200.7 472.5,1205.5 473.5,1209.6 C474.4,1213.8 475.0,1218.2 475.9,1222.1 C476.9,1225.9 477.8,1231.2 479.1,1232.6 C480.3,1234.1 481.9,1231.9 483.4,1230.8 C485.0,1229.6 486.7,1227.7 488.4,1225.8 C490.0,1223.9 491.7,1221.2 493.4,1219.6 C495.0,1217.9 497.1,1216.9 498.3,1215.8 C499.6,1214.8 499.9,1215.4 500.8,1213.4 C501.7,1211.3 502.9,1206.3 503.9,1203.4 C505.0,1200.5 505.9,1197.4 507.0,1195.9 C508.2,1194.5 509.4,1194.5 510.8,1194.7 C512.1,1194.9 513.9,1195.3 515.1,1197.2 C516.4,1199.1 517.2,1203.2 518.2,1205.9 C519.3,1208.6 520.1,1211.5 521.3,1213.4 C522.6,1215.2 523.9,1215.8 525.7,1217.1 C527.4,1218.3 530.2,1219.6 531.9,1220.8 C533.6,1222.1 534.6,1222.7 535.6,1224.5 C536.7,1226.4 537.3,1229.3 538.1,1232.0 C538.9,1234.7 539.6,1238.2 540.6,1240.7 C541.6,1243.2 542.9,1244.9 544.3,1246.9 C545.8,1249.0 547.6,1251.1 549.3,1253.1 C551.0,1255.2 552.8,1257.3 554.3,1259.4 C555.7,1261.4 556.9,1263.3 558.0,1265.6 C559.1,1267.9 560.2,1271.7 561.1,1273.0 C562.0,1274.4 562.8,1274.7 563.6,1273.7 C564.4,1272.6 565.1,1269.2 566.1,1266.8 C567.1,1264.4 568.3,1261.2 569.8,1259.4 C571.4,1257.5 573.9,1255.6 575.4,1255.6 C577.0,1255.6 577.9,1257.7 579.1,1259.4 C580.4,1261.0 581.6,1265.4 582.9,1265.6 C584.1,1265.8 585.4,1263.5 586.6,1260.6 C587.8,1257.7 589.1,1251.9 590.3,1248.2 C591.6,1244.4 592.8,1240.8 594.1,1238.2 C595.3,1235.6 596.7,1232.6 597.8,1232.6 C598.9,1232.6 599.9,1235.8 600.9,1238.2 C601.9,1240.6 602.9,1244.9 604.0,1246.9 C605.2,1249.0 606.4,1249.9 607.7,1250.7 C609.1,1251.4 610.7,1251.7 612.1,1251.3 C613.4,1250.9 614.7,1249.0 615.8,1248.2 C617.0,1247.3 618.0,1245.7 618.9,1246.3 C619.9,1246.9 620.6,1248.9 621.4,1251.9 C622.2,1254.9 623.1,1261.2 623.9,1264.3 C624.7,1267.4 625.1,1269.1 626.4,1270.5 C627.6,1272.0 629.9,1271.6 631.4,1273.0 C632.8,1274.5 634.0,1276.6 635.1,1279.3 C636.2,1281.9 637.2,1286.8 638.2,1289.2 C639.2,1291.6 640.2,1293.5 641.3,1293.5 C642.5,1293.5 643.7,1290.5 645.0,1289.2 C646.4,1287.9 648.0,1286.5 649.4,1285.5 C650.7,1284.4 652.0,1282.8 653.1,1283.0 C654.3,1283.2 655.1,1285.1 656.2,1286.7 C657.4,1288.4 658.6,1291.7 660.0,1292.9 C661.3,1294.2 662.9,1294.4 664.3,1294.2 C665.8,1294.0 667.1,1293.3 668.7,1291.7 C670.2,1290.0 672.0,1286.2 673.6,1284.2 C675.3,1282.3 677.0,1280.9 678.6,1279.9 C680.3,1278.8 682.1,1278.3 683.6,1278.0 C685.0,1277.7 686.2,1277.2 687.3,1278.0 C688.5,1278.8 689.5,1280.5 690.4,1283.0 C691.4,1285.5 692.0,1290.4 692.9,1292.9 C693.8,1295.4 694.7,1297.9 696.0,1297.9 C697.4,1297.9 699.7,1293.5 701.0,1292.9 C702.2,1292.3 702.5,1292.5 703.5,1294.2 C704.4,1295.8 705.5,1300.7 706.6,1302.9 C707.6,1305.1 708.7,1307.4 709.7,1307.2 C710.7,1307.0 711.8,1304.4 712.8,1301.6 C713.8,1298.8 714.6,1292.9 715.9,1290.4 C717.2,1288.0 719.1,1287.1 720.6,1286.8 C722.2,1286.6 723.5,1288.1 725.2,1289.1 C726.8,1290.1 728.9,1293.3 730.5,1292.9 C732.2,1292.5 733.4,1288.9 735.1,1286.8 C736.7,1284.8 738.0,1282.3 740.4,1280.8 C742.8,1279.2 747.2,1277.5 749.5,1277.7 C751.8,1278.0 752.5,1279.8 754.1,1282.3 C755.6,1284.8 757.1,1292.9 758.6,1292.9 C760.1,1292.9 761.6,1286.8 763.2,1282.3 C764.7,1277.7 766.5,1270.4 767.7,1265.6 C769.0,1260.8 769.7,1255.7 770.8,1253.4 C771.8,1251.1 772.7,1250.1 773.8,1251.9 C774.9,1253.7 776.2,1260.3 777.6,1264.1 C779.0,1267.9 780.6,1272.2 782.2,1274.7 C783.7,1277.2 785.3,1280.0 786.7,1279.2 C788.1,1278.5 789.2,1272.7 790.5,1270.1 C791.8,1267.6 793.0,1264.6 794.3,1264.1 C795.6,1263.6 796.8,1266.3 798.1,1267.1 C799.4,1267.9 800.8,1270.1 801.9,1268.6 C803.0,1267.1 803.8,1261.0 804.9,1258.0 C806.1,1254.9 807.1,1251.5 808.7,1250.4 C810.4,1249.2 813.2,1252.2 814.8,1251.1 C816.5,1250.1 817.3,1247.5 818.6,1244.3 C819.9,1241.1 821.0,1236.5 822.4,1232.2 C823.8,1227.9 825.4,1222.0 827.0,1218.5 C828.5,1214.9 830.0,1212.9 831.5,1210.9 C833.0,1208.9 834.7,1209.1 836.1,1206.3 C837.5,1203.5 838.6,1198.7 839.9,1194.2 C841.1,1189.6 842.3,1184.1 843.7,1179.0 C845.1,1173.9 846.7,1168.6 848.2,1163.8 C849.8,1159.0 851.4,1153.3 852.8,1150.1 C854.2,1147.0 855.3,1144.8 856.6,1144.8 C857.9,1144.8 859.1,1148.5 860.4,1150.1 C861.7,1151.8 862.7,1154.4 864.2,1154.7 C865.7,1154.9 867.9,1153.2 869.5,1151.6 C871.1,1150.1 872.5,1147.5 874.1,1145.6 C875.6,1143.7 877.0,1140.5 878.6,1140.3 C880.3,1140.0 882.4,1141.6 883.9,1144.1 C885.5,1146.5 886.3,1151.1 887.7,1154.7 C889.1,1158.2 890.6,1162.9 892.3,1165.3 C893.9,1167.7 896.0,1169.4 897.6,1169.1 C899.3,1168.9 900.5,1165.7 902.2,1163.8 C903.8,1161.9 905.8,1158.6 907.5,1157.7 C909.1,1156.8 910.5,1157.2 912.0,1158.5 C913.6,1159.7 915.2,1162.9 916.6,1165.3 C918.0,1167.7 918.9,1170.9 920.4,1172.9 C921.9,1174.9 923.7,1176.7 925.7,1177.5 C927.7,1178.2 930.8,1176.7 932.5,1177.5 C934.3,1178.2 935.2,1180.0 936.3,1182.0 C937.5,1184.1 938.4,1188.0 939.4,1189.6 C940.4,1191.3 941.2,1192.2 942.4,1191.9 C943.7,1191.7 945.5,1190.3 947.0,1188.1 C948.5,1186.0 950.1,1181.6 951.5,1179.0 C952.9,1176.3 954.1,1172.7 955.3,1172.2 C956.6,1171.6 958.0,1175.1 959.1,1176.0 C960.3,1176.8 960.9,1178.5 962.2,1177.5 C963.4,1176.5 965.2,1173.4 966.7,1169.9 C968.2,1166.3 969.8,1161.0 971.3,1156.2 C972.8,1151.4 974.4,1146.1 975.8,1141.0 C977.2,1136.0 978.4,1129.9 979.6,1125.8 C980.9,1121.8 982.0,1117.5 983.4,1116.7 C984.8,1116.0 986.7,1120.8 988.0,1121.3 C989.3,1121.8 989.9,1121.5 991.0,1119.7 C992.2,1118.0 993.6,1112.9 994.8,1110.6 C996.1,1108.4 997.0,1107.4 998.6,1106.1 C1000.3,1104.8 1003.1,1104.4 1004.7,1102.9 C1006.2,1101.4 1007.0,1099.4 1008.2,1097.1 C1009.3,1094.7 1010.5,1091.6 1011.6,1088.9 C1012.8,1086.2 1014.0,1083.1 1015.1,1080.8 C1016.3,1078.4 1017.1,1077.1 1018.6,1074.9 C1020.2,1072.8 1022.9,1070.5 1024.5,1067.9 C1026.0,1065.4 1026.8,1062.3 1027.9,1059.8 C1029.1,1057.3 1030.4,1053.0 1031.4,1052.8 C1032.5,1052.6 1033.4,1055.9 1034.4,1058.6 C1035.3,1061.4 1036.4,1067.0 1037.3,1069.1 C1038.1,1071.2 1038.7,1072.0 1039.6,1071.4 C1040.5,1070.9 1041.5,1067.2 1042.5,1065.6 C1043.5,1064.1 1044.4,1061.9 1045.4,1062.1 C1046.4,1062.3 1047.4,1064.5 1048.3,1066.8 C1049.3,1069.1 1050.2,1072.8 1051.2,1076.1 C1052.3,1079.4 1053.4,1082.9 1054.7,1086.6 C1056.1,1090.3 1058.0,1094.3 1059.4,1098.2 C1060.8,1102.1 1061.6,1106.6 1062.9,1109.9 C1064.1,1113.2 1065.7,1117.6 1067.0,1118.0 C1068.2,1118.4 1069.4,1113.9 1070.5,1112.2 C1071.5,1110.6 1072.3,1107.9 1073.4,1108.1 C1074.4,1108.3 1075.7,1111.1 1076.9,1113.4 C1078.0,1115.6 1079.1,1118.8 1080.4,1121.5 C1081.6,1124.2 1083.1,1127.0 1084.4,1129.7 C1085.8,1132.4 1087.2,1135.1 1088.5,1137.8 C1089.8,1140.5 1090.6,1143.8 1092.0,1146.0 C1093.4,1148.1 1095.1,1150.0 1096.7,1150.6 C1098.2,1151.3 1100.0,1150.6 1101.3,1150.1 C1102.7,1149.5 1103.6,1148.0 1104.8,1147.1 C1106.0,1146.3 1107.2,1144.0 1108.3,1144.8 C1109.4,1145.6 1110.2,1148.3 1111.2,1151.8 C1112.2,1155.3 1113.3,1163.0 1114.1,1165.8 C1115.0,1168.6 1115.5,1168.9 1116.5,1168.7 C1117.4,1168.5 1118.6,1166.6 1119.9,1164.6 C1121.3,1162.6 1123.1,1159.0 1124.6,1156.5 C1126.2,1153.9 1127.9,1149.5 1129.3,1149.5 C1130.6,1149.5 1131.6,1153.3 1132.8,1156.5 C1133.9,1159.6 1135.2,1166.9 1136.3,1168.1 C1137.3,1169.3 1138.3,1166.0 1139.2,1163.4 C1140.0,1160.9 1140.6,1155.3 1141.5,1153.0 C1142.4,1150.6 1143.3,1148.7 1144.4,1149.5 C1145.5,1150.2 1146.7,1155.3 1147.9,1157.6 C1149.1,1159.9 1150.2,1162.2 1151.4,1163.4 C1152.6,1164.7 1153.5,1165.4 1154.9,1165.2 C1156.2,1165.0 1158.0,1163.7 1159.5,1162.3 C1161.1,1160.8 1162.6,1158.6 1164.2,1156.5 C1165.8,1154.3 1167.1,1151.6 1168.9,1149.5 C1170.6,1147.3 1172.9,1145.0 1174.7,1143.6 C1176.4,1142.3 1177.9,1142.5 1179.3,1141.3 C1180.8,1140.2 1182.1,1137.6 1183.4,1136.7 C1184.8,1135.7 1186.0,1135.1 1187.5,1135.5 C1188.9,1135.9 1190.8,1137.2 1192.2,1139.0 C1193.5,1140.7 1194.7,1143.1 1195.6,1146.0 C1196.6,1148.9 1197.2,1154.1 1198.0,1156.5 C1198.8,1158.8 1199.1,1159.6 1200.3,1159.9 C1201.5,1160.3 1203.6,1158.0 1205.0,1158.8 C1206.3,1159.6 1207.4,1161.9 1208.5,1164.6 C1209.5,1167.3 1210.4,1172.9 1211.4,1175.1 C1212.3,1177.3 1213.3,1178.6 1214.3,1178.0 C1215.2,1177.4 1216.2,1173.2 1217.2,1171.6 C1218.2,1169.9 1219.2,1167.9 1220.1,1168.1 C1221.0,1168.3 1221.6,1170.2 1222.4,1172.8 C1223.3,1175.3 1224.5,1180.8 1225.3,1183.2 C1226.2,1185.7 1226.8,1187.9 1227.7,1187.3 C1228.5,1186.7 1229.5,1182.2 1230.6,1179.7 C1231.6,1177.3 1232.7,1174.3 1234.1,1172.8 C1235.4,1171.2 1237.4,1171.4 1238.7,1170.4 C1240.1,1169.5 1241.1,1169.1 1242.2,1166.9 C1243.4,1164.8 1244.7,1159.8 1245.7,1157.6 C1246.8,1155.5 1247.7,1153.5 1248.6,1154.1 C1249.6,1154.7 1250.5,1158.8 1251.5,1161.1 C1252.6,1163.4 1254.1,1167.3 1255.0,1168.1 C1256.0,1168.9 1256.4,1168.3 1257.4,1165.8 C1258.3,1163.2 1259.5,1155.9 1260.9,1153.0 C1262.2,1150.1 1264.0,1148.9 1265.5,1148.3 C1267.1,1147.7 1268.8,1148.3 1270.2,1149.5 C1271.5,1150.6 1272.5,1153.0 1273.7,1155.3 C1274.8,1157.6 1276.0,1160.1 1277.2,1163.4 C1278.3,1166.7 1279.5,1172.0 1280.7,1175.1 C1281.8,1178.2 1283.0,1181.9 1284.2,1182.1 C1285.3,1182.3 1286.5,1177.8 1287.6,1176.3 C1288.8,1174.7 1290.0,1172.4 1291.1,1172.8 C1292.3,1173.1 1293.2,1175.4 1294.6,1178.6 C1296.1,1181.8 1298.2,1188.9 1299.9,1191.8 C1301.7,1194.7 1303.1,1195.4 1304.9,1196.2 C1306.8,1196.9 1309.1,1195.5 1311.1,1196.2 C1313.2,1196.8 1315.7,1198.0 1317.4,1199.9 C1319.0,1201.8 1320.0,1204.7 1321.1,1207.4 C1322.1,1210.0 1322.6,1214.1 1323.6,1216.1 C1324.5,1218.0 1325.2,1219.4 1326.7,1219.2 C1328.1,1219.0 1330.8,1215.1 1332.3,1214.8 C1333.7,1214.5 1334.1,1215.8 1335.4,1217.3 C1336.6,1218.8 1338.2,1222.4 1339.7,1223.5 C1341.3,1224.7 1342.6,1224.0 1344.7,1224.1 C1346.8,1224.2 1349.7,1224.3 1352.2,1224.1 C1354.7,1223.9 1357.6,1222.2 1359.6,1222.9 C1361.7,1223.6 1362.9,1226.5 1364.6,1228.5 C1366.3,1230.5 1367.9,1232.6 1369.6,1234.7 C1371.2,1236.8 1373.1,1238.4 1374.5,1240.9 C1376.0,1243.4 1377.0,1247.1 1378.3,1249.6 C1379.5,1252.1 1380.8,1254.6 1382.0,1255.8 C1383.2,1257.1 1384.5,1257.3 1385.7,1257.1 C1387.0,1256.9 1388.2,1256.2 1389.5,1254.6 C1390.7,1253.0 1391.7,1250.9 1393.2,1247.8 C1394.6,1244.7 1396.5,1239.6 1398.2,1235.9 C1399.8,1232.3 1401.6,1228.7 1403.1,1226.0 C1404.7,1223.3 1406.3,1221.0 1407.5,1219.8 C1408.7,1218.5 1409.5,1218.3 1410.6,1218.5 C1411.7,1218.8 1412.9,1219.6 1414.3,1221.0 C1415.8,1222.5 1417.6,1224.6 1419.3,1227.2 C1421.0,1229.9 1422.8,1234.3 1424.3,1237.2 C1425.7,1240.1 1426.9,1243.0 1428.0,1244.7 C1429.1,1246.3 1430.1,1247.2 1431.1,1247.1 C1432.2,1247.0 1433.2,1244.9 1434.2,1244.0 C1435.3,1243.2 1436.2,1241.9 1437.3,1242.2 C1438.5,1242.5 1439.7,1243.8 1441.1,1245.9 C1442.4,1248.0 1444.1,1251.5 1445.4,1254.6 C1446.8,1257.7 1447.9,1261.2 1449.1,1264.5 C1450.4,1267.9 1451.6,1271.2 1452.9,1274.5 C1454.1,1277.8 1455.4,1281.3 1456.6,1284.4 C1457.8,1287.5 1459.1,1290.4 1460.3,1293.1 C1461.6,1295.8 1462.8,1298.9 1464.1,1300.6 C1465.3,1302.3 1466.6,1302.8 1467.8,1303.1 C1469.0,1303.4 1470.3,1302.3 1471.5,1302.5 C1472.8,1302.7 1473.8,1303.2 1475.3,1304.3 C1476.7,1305.5 1478.8,1307.0 1480.2,1309.3 C1481.7,1311.6 1482.9,1316.0 1484.0,1318.0 C1485.0,1320.0 1485.6,1321.3 1486.4,1321.1 C1487.3,1320.9 1488.1,1319.6 1488.9,1316.8 C1489.8,1314.0 1490.4,1308.5 1491.4,1304.3 C1492.5,1300.2 1493.7,1295.4 1495.1,1291.9 C1496.6,1288.4 1498.7,1285.3 1500.1,1283.2 C1501.6,1281.1 1502.4,1280.3 1503.9,1279.5 C1505.3,1278.6 1507.2,1278.4 1508.8,1278.2 C1510.5,1278.0 1512.3,1277.4 1513.8,1278.2 C1515.2,1279.1 1516.3,1281.5 1517.5,1283.2 C1518.8,1284.9 1520.0,1288.8 1521.3,1288.2 C1522.5,1287.5 1523.7,1281.7 1525.0,1279.5 C1526.2,1277.2 1527.6,1274.5 1528.7,1274.5 C1529.9,1274.5 1530.8,1277.4 1531.8,1279.5 C1532.9,1281.5 1533.8,1285.3 1534.9,1286.9 C1536.1,1288.6 1537.2,1289.4 1538.7,1289.4 C1540.1,1289.4 1542.0,1288.6 1543.6,1286.9 C1545.3,1285.3 1547.2,1281.1 1548.6,1279.5 C1550.1,1277.8 1551.0,1277.2 1552.3,1277.0 C1553.7,1276.8 1555.4,1276.6 1556.7,1278.2 C1557.9,1279.9 1558.9,1283.4 1559.8,1286.9 C1560.7,1290.4 1561.5,1296.6 1562.3,1299.4 C1563.1,1302.2 1563.5,1302.7 1564.8,1303.7 C1566.0,1304.7 1568.3,1304.2 1569.7,1305.6 C1571.2,1306.9 1572.2,1309.1 1573.5,1311.8 C1574.7,1314.5 1576.0,1318.0 1577.2,1321.7 C1578.4,1325.5 1579.8,1330.5 1580.9,1334.2 C1582.1,1337.8 1583.0,1341.8 1584.0,1343.5 C1585.1,1345.2 1586.3,1344.6 1587.2,1344.1 C1588.0,1343.6 1588.2,1342.3 1589.3,1340.4 C1590.4,1338.5 1592.3,1336.5 1593.7,1332.9 C1595.0,1329.4 1596.2,1323.2 1597.4,1319.3 C1598.6,1315.3 1599.9,1312.0 1601.1,1309.3 C1602.4,1306.6 1603.4,1304.4 1604.9,1303.1 C1606.3,1301.7 1608.4,1301.0 1609.8,1301.2 C1611.3,1301.4 1612.4,1302.6 1613.6,1304.3 C1614.7,1306.1 1615.7,1309.9 1616.7,1311.8 C1617.6,1313.7 1618.3,1315.7 1619.2,1315.5 C1620.0,1315.3 1620.8,1313.2 1621.7,1310.5 C1622.5,1307.9 1623.2,1302.5 1624.1,1299.4 C1625.1,1296.3 1625.9,1294.2 1627.2,1291.9 C1628.6,1289.6 1630.7,1287.5 1632.2,1285.7 C1633.8,1283.8 1635.2,1281.7 1636.6,1280.7 C1637.9,1279.7 1639.2,1278.8 1640.3,1279.5 C1641.4,1280.1 1642.5,1282.4 1643.4,1284.4 C1644.3,1286.5 1645.1,1290.6 1645.9,1291.9 C1646.7,1293.2 1647.6,1293.8 1648.4,1292.5 C1649.2,1291.3 1649.9,1287.4 1650.9,1284.4 C1651.8,1281.4 1652.8,1276.4 1654.0,1274.5 C1655.1,1272.6 1656.5,1273.2 1657.7,1273.2 C1659.0,1273.2 1660.2,1275.3 1661.4,1274.5 C1662.7,1273.7 1664.0,1269.7 1665.2,1268.3 C1666.3,1266.8 1667.2,1265.2 1668.3,1265.8 C1669.3,1266.4 1670.3,1269.3 1671.4,1272.0 C1672.4,1274.7 1673.7,1280.1 1674.5,1282.0 C1675.3,1283.8 1675.6,1284.0 1676.4,1283.2 C1677.1,1282.4 1677.9,1279.7 1678.8,1277.0 C1679.8,1274.3 1680.8,1270.3 1682.0,1267.0 C1683.1,1263.7 1684.5,1259.7 1685.7,1257.1 C1686.8,1254.5 1687.8,1251.7 1688.8,1251.5 C1689.8,1251.3 1691.0,1253.5 1691.9,1255.8 C1692.8,1258.2 1693.5,1262.5 1694.4,1265.8 C1695.3,1269.1 1696.5,1272.6 1697.5,1275.7 C1698.5,1278.8 1699.7,1282.4 1700.6,1284.4 C1701.5,1286.5 1702.3,1288.0 1703.1,1288.2 C1703.9,1288.4 1704.6,1288.0 1705.6,1285.7 C1706.5,1283.4 1707.6,1277.3 1708.7,1274.5 C1709.7,1271.7 1710.4,1270.3 1711.8,1268.9 C1713.1,1267.4 1714.9,1266.9 1716.8,1265.8 C1718.6,1264.6 1720.9,1263.3 1723.0,1262.1 C1725.1,1260.8 1727.5,1259.6 1729.2,1258.3 C1730.9,1257.1 1731.7,1256.3 1732.9,1254.6 C1734.2,1252.9 1735.4,1249.8 1736.7,1248.4 C1737.9,1246.9 1739.1,1245.9 1740.4,1245.9 C1741.6,1245.9 1743.0,1246.9 1744.1,1248.4 C1745.3,1249.8 1746.3,1251.9 1747.2,1254.6 C1748.2,1257.3 1748.9,1261.3 1749.7,1264.5 C1750.5,1267.8 1751.4,1272.8 1752.2,1273.9 C1753.0,1274.9 1753.8,1273.8 1754.7,1270.8 C1755.6,1267.8 1756.8,1260.8 1757.8,1255.8 C1758.8,1250.9 1759.9,1245.5 1760.9,1240.9 C1761.9,1236.4 1763.0,1231.4 1764.0,1228.5 C1765.0,1225.6 1766.1,1223.7 1767.1,1223.5 C1768.2,1223.3 1769.1,1225.6 1770.2,1227.2 C1771.4,1228.9 1772.3,1231.8 1774.0,1233.5 C1775.6,1235.1 1778.5,1235.5 1780.2,1237.2 C1781.8,1238.9 1782.7,1241.1 1783.9,1243.4 C1785.1,1245.7 1786.6,1249.3 1787.6,1250.9 C1788.7,1252.4 1788.9,1252.5 1790.1,1252.7 C1791.4,1252.9 1793.4,1252.1 1795.1,1252.1 C1796.8,1252.1 1798.7,1252.9 1800.1,1252.7 C1801.4,1252.5 1802.1,1253.0 1803.2,1250.9 C1804.2,1248.7 1805.2,1243.6 1806.3,1239.7 C1807.3,1235.7 1808.4,1231.6 1809.4,1227.2 C1810.4,1222.9 1811.5,1217.2 1812.5,1213.6 C1813.5,1209.9 1814.6,1206.1 1815.6,1205.5 C1816.6,1204.9 1817.7,1207.7 1818.7,1209.8 C1819.8,1212.0 1820.7,1215.8 1821.8,1218.5 C1823.0,1221.2 1824.4,1224.2 1825.6,1226.0 C1826.7,1227.8 1827.7,1229.7 1828.7,1229.1 C1829.6,1228.5 1830.3,1225.3 1831.2,1222.3 C1832.0,1219.3 1832.6,1214.6 1833.6,1211.1 C1834.7,1207.6 1836.1,1204.0 1837.4,1201.1 C1838.6,1198.2 1839.6,1195.4 1841.1,1193.7 C1842.5,1191.9 1844.5,1190.8 1846.1,1190.6 C1847.6,1190.4 1849.2,1190.7 1850.4,1192.4 C1851.7,1194.2 1852.5,1198.3 1853.5,1201.1 C1854.6,1203.9 1855.4,1207.1 1856.6,1209.2 C1857.9,1211.3 1859.4,1212.5 1861.0,1213.6 C1862.5,1214.6 1864.4,1215.2 1866.0,1215.4 C1867.5,1215.6 1869.1,1214.3 1870.3,1214.8 C1871.6,1215.3 1872.4,1216.5 1873.4,1218.5 C1874.5,1220.6 1875.2,1226.8 1876.5,1227.2 C1877.8,1227.7 1880.0,1223.9 1881.2,1221.0 C1882.4,1218.1 1882.8,1212.5 1883.7,1209.8 C1884.5,1207.1 1885.2,1204.9 1886.2,1204.9 C1887.1,1204.9 1888.2,1207.8 1889.3,1209.8 C1890.3,1211.9 1891.0,1215.4 1892.4,1217.3 C1893.7,1219.2 1896.0,1219.6 1897.4,1221.0 C1898.7,1222.5 1899.5,1223.7 1900.5,1226.0 C1901.4,1228.3 1902.1,1231.6 1902.9,1234.7 C1903.8,1237.8 1904.3,1242.0 1905.4,1244.7 C1906.6,1247.3 1908.2,1249.7 1909.8,1250.9 C1911.3,1252.0 1913.1,1251.9 1914.8,1251.5 C1916.4,1251.1 1918.3,1250.1 1919.7,1248.4 C1921.2,1246.6 1922.2,1244.0 1923.5,1240.9 C1924.7,1237.8 1925.9,1233.3 1927.2,1229.7 C1928.4,1226.2 1929.7,1222.4 1930.9,1219.8 C1932.2,1217.2 1933.4,1214.6 1934.7,1214.2 C1935.9,1213.8 1937.1,1215.5 1938.4,1217.3 C1939.6,1219.1 1940.7,1222.1 1942.1,1224.8 C1943.6,1227.5 1945.6,1230.4 1947.1,1233.5 C1948.5,1236.6 1949.6,1240.1 1950.8,1243.4 C1952.1,1246.7 1953.3,1250.8 1954.5,1253.4 C1955.8,1255.9 1957.0,1257.7 1958.3,1259.0 C1959.5,1260.2 1960.8,1261.5 1962.0,1260.8 C1963.2,1260.1 1964.5,1257.1 1965.7,1254.6 C1967.0,1252.1 1968.2,1248.4 1969.5,1245.9 C1970.7,1243.4 1971.7,1241.2 1973.2,1239.7 C1974.6,1238.1 1976.5,1236.9 1978.2,1236.6 C1979.8,1236.3 1981.7,1238.3 1983.1,1237.8 C1984.6,1237.3 1985.6,1235.0 1986.9,1233.5 C1988.1,1231.9 1989.5,1228.7 1990.6,1228.5 C1991.7,1228.3 1992.7,1230.1 1993.7,1232.2 C1994.7,1234.3 1995.5,1238.9 1996.8,1240.9 C1998.2,1243.0 2000.3,1243.4 2001.8,1244.7 C2003.2,1245.9 2004.4,1246.5 2005.5,1248.4 C2006.7,1250.2 2007.6,1253.8 2008.6,1255.8 C2009.7,1257.9 2010.6,1260.4 2011.7,1260.8 C2012.9,1261.2 2014.2,1259.2 2015.5,1258.3 C2016.7,1257.5 2018.0,1255.6 2019.2,1255.8 C2020.4,1256.0 2021.7,1257.7 2022.9,1259.6 C2024.2,1261.4 2025.4,1264.3 2026.7,1267.0 C2027.9,1269.7 2029.2,1272.6 2030.4,1275.7 C2031.5,1278.8 2032.5,1282.4 2033.5,1285.7 C2034.5,1289.0 2035.6,1292.9 2036.6,1295.6 C2037.6,1298.3 2038.7,1301.6 2039.7,1301.8 C2040.7,1302.1 2041.7,1299.2 2042.8,1296.9 C2044.0,1294.6 2045.4,1288.6 2046.6,1288.2 C2047.7,1287.8 2048.7,1291.9 2049.7,1294.4 C2050.6,1296.9 2051.3,1301.1 2052.1,1303.1 C2053.0,1305.1 2053.7,1306.8 2054.6,1306.2 C2055.6,1305.6 2056.6,1301.5 2057.7,1299.4 C2058.9,1297.2 2060.0,1294.2 2061.5,1293.1 C2062.9,1292.1 2065.0,1293.5 2066.4,1293.1 C2067.9,1292.8 2068.8,1292.1 2070.2,1291.3 C2071.5,1290.4 2073.1,1288.1 2074.5,1288.2 C2076.0,1288.3 2077.3,1290.0 2078.9,1291.9 C2080.4,1293.8 2082.3,1297.0 2083.9,1299.4 C2085.4,1301.7 2086.8,1306.0 2088.2,1306.2 C2089.7,1306.4 2091.2,1303.4 2092.6,1300.6 C2093.9,1297.8 2095.0,1292.9 2096.3,1289.4 C2097.5,1285.9 2098.9,1282.0 2100.0,1279.5 C2101.2,1277.0 2102.1,1274.5 2103.1,1274.5 C2104.2,1274.5 2105.2,1278.0 2106.2,1279.5 C2107.3,1280.9 2108.2,1283.6 2109.3,1283.2 C2110.5,1282.8 2111.9,1278.4 2113.1,1277.0 C2114.2,1275.5 2115.1,1274.1 2116.2,1274.5 C2117.2,1274.9 2118.2,1277.4 2119.3,1279.5 C2120.3,1281.5 2121.0,1285.5 2122.4,1286.9 C2123.7,1288.4 2125.9,1287.8 2127.4,1288.2 C2128.8,1288.6 2130.0,1288.0 2131.1,1289.4 C2132.2,1290.9 2133.2,1294.8 2134.2,1296.9 C2135.2,1298.9 2136.2,1301.8 2137.3,1301.8 C2138.5,1301.8 2139.9,1298.3 2141.0,1296.9 C2142.2,1295.4 2143.2,1292.7 2144.2,1293.1 C2145.1,1293.6 2145.7,1296.5 2146.6,1299.4 C2147.6,1302.3 2148.8,1308.6 2149.7,1310.5 C2150.7,1312.5 2151.3,1312.6 2152.2,1311.2 C2153.2,1309.7 2154.3,1304.2 2155.3,1301.8 C2156.4,1299.5 2157.3,1297.3 2158.4,1296.9 C2159.6,1296.5 2160.9,1298.5 2162.2,1299.4 C2163.4,1300.2 2164.0,1303.9 2165.9,1301.8 C2167.8,1299.8 2171.8,1291.3 2173.7,1286.9 C2175.6,1282.6 2176.1,1279.3 2177.4,1275.7 C2178.8,1272.2 2180.3,1268.3 2181.8,1265.8 C2183.2,1263.3 2184.8,1260.6 2186.1,1260.8 C2187.5,1261.0 2188.6,1264.8 2189.8,1267.0 C2191.1,1269.3 2192.3,1274.5 2193.6,1274.5 C2194.8,1274.5 2196.1,1270.3 2197.3,1267.0 C2198.5,1263.7 2199.8,1258.7 2201.0,1254.6 C2202.3,1250.5 2203.5,1245.1 2204.8,1242.2 C2206.0,1239.3 2207.0,1237.4 2208.5,1237.2 C2209.9,1237.0 2211.9,1239.1 2213.5,1240.9 C2215.0,1242.8 2216.5,1245.9 2217.8,1248.4 C2219.2,1250.9 2220.2,1254.4 2221.5,1255.8 C2222.9,1257.3 2224.4,1257.7 2225.9,1257.1 C2227.3,1256.5 2228.8,1254.6 2230.2,1252.1 C2231.7,1249.6 2233.0,1244.4 2234.6,1242.2 C2236.2,1239.9 2237.9,1239.5 2239.6,1238.4 C2241.2,1237.4 2242.9,1236.9 2244.5,1235.9 C2246.2,1235.0 2248.1,1234.5 2249.5,1232.8 C2251.0,1231.2 2252.0,1228.3 2253.2,1226.0 C2254.5,1223.7 2255.7,1219.7 2257.0,1219.2 C2258.2,1218.6 2259.4,1220.9 2260.7,1222.9 C2262.1,1224.9 2263.8,1227.8 2265.1,1231.0 C2266.3,1234.2 2267.1,1239.5 2268.2,1242.2 C2269.2,1244.9 2270.2,1247.3 2271.3,1247.1 C2272.3,1246.9 2273.3,1242.5 2274.4,1240.9 C2275.4,1239.4 2276.5,1237.4 2277.5,1237.8 C2278.5,1238.2 2279.5,1241.1 2280.6,1243.4 C2281.7,1245.7 2283.1,1251.3 2284.3,1251.5 C2285.6,1251.7 2286.8,1247.0 2288.1,1244.7 C2289.3,1242.3 2290.5,1238.6 2291.8,1237.2 C2293.0,1235.7 2294.2,1235.7 2295.5,1235.9 C2296.9,1236.2 2298.6,1236.8 2299.9,1238.4 C2301.1,1240.1 2301.9,1243.7 2303.0,1245.9 C2304.0,1248.1 2305.1,1251.3 2306.1,1251.5 C2307.1,1251.7 2308.1,1248.7 2309.2,1247.1 C2310.3,1245.6 2311.5,1243.0 2312.9,1242.2 C2314.4,1241.3 2316.5,1242.6 2317.9,1242.2 C2319.4,1241.8 2320.2,1240.5 2321.6,1239.7 C2323.1,1238.9 2325.2,1236.8 2326.6,1237.2 C2328.1,1237.6 2329.1,1240.5 2330.3,1242.2 C2331.6,1243.8 2332.6,1245.7 2334.1,1247.1 C2335.5,1248.6 2337.6,1250.0 2339.0,1250.9 C2340.5,1251.7 2341.3,1251.9 2342.8,1252.1 C2344.2,1252.3 2346.3,1251.7 2347.7,1252.1 C2349.2,1252.5 2350.3,1253.9 2351.5,1254.6 C2352.6,1255.3 2353.3,1256.7 2354.6,1256.5 C2355.8,1256.3 2357.4,1254.5 2358.9,1253.4 C2360.5,1252.2 2362.3,1250.8 2363.9,1249.6 C2365.5,1248.5 2367.0,1246.1 2368.3,1246.5 C2369.5,1246.9 2370.4,1249.1 2371.4,1252.1 C2372.3,1255.1 2373.0,1261.4 2373.9,1264.5 C2374.7,1267.7 2375.1,1269.1 2376.3,1270.8 C2377.6,1272.4 2379.4,1273.0 2381.3,1274.5 C2383.2,1275.9 2385.9,1277.8 2387.5,1279.5 C2389.2,1281.1 2390.2,1282.4 2391.3,1284.4 C2392.3,1286.5 2392.9,1290.4 2393.7,1291.9 C2394.6,1293.3 2395.4,1294.0 2396.2,1293.1 C2397.1,1292.3 2397.7,1289.4 2398.7,1286.9 C2399.8,1284.4 2401.2,1280.1 2402.4,1278.2 C2403.7,1276.4 2404.7,1276.6 2406.2,1275.7 C2407.6,1274.9 2409.8,1274.5 2411.2,1273.2 C2412.5,1272.0 2413.2,1269.6 2414.3,1268.3 C2415.3,1266.9 2416.3,1265.0 2417.4,1265.2 C2418.4,1265.4 2419.6,1267.3 2420.5,1269.5 C2421.3,1271.7 2421.6,1275.7 2422.3,1278.2 C2423.1,1280.7 2423.9,1284.4 2424.8,1284.4 C2425.8,1284.4 2426.9,1280.7 2427.9,1278.2 C2429.0,1275.7 2430.0,1270.1 2431.0,1269.5 C2432.1,1268.9 2433.1,1271.2 2434.2,1274.5 C2435.2,1277.8 2436.3,1285.9 2437.3,1289.4 C2438.2,1292.9 2438.5,1294.2 2439.7,1295.6 C2441.0,1297.1 2443.3,1296.9 2444.7,1298.1 C2446.2,1299.4 2447.2,1301.6 2448.4,1303.1 C2449.7,1304.6 2450.8,1307.3 2452.2,1307.0 C2453.5,1306.8 2455.2,1304.4 2456.6,1301.7 C2458.0,1298.9 2459.3,1294.3 2460.4,1290.6 C2461.5,1286.9 2462.2,1282.9 2463.2,1279.6 C2464.2,1276.2 2465.0,1273.1 2466.5,1270.7 C2468.0,1268.3 2470.4,1265.2 2472.0,1265.2 C2473.7,1265.2 2475.2,1268.0 2476.5,1270.7 C2477.8,1273.5 2478.7,1278.5 2479.8,1281.8 C2480.9,1285.1 2481.8,1287.9 2483.1,1290.6 C2484.4,1293.3 2486.0,1297.1 2487.5,1297.8 C2489.0,1298.5 2490.3,1296.2 2491.9,1295.0 C2493.6,1293.8 2495.6,1291.9 2497.5,1290.6 C2499.3,1289.3 2501.1,1288.4 2503.0,1287.3 C2504.8,1286.2 2507.0,1285.6 2508.5,1284.0 C2510.0,1282.3 2510.7,1279.9 2511.8,1277.3 C2512.9,1274.8 2514.0,1271.3 2515.1,1268.5 C2516.2,1265.7 2517.3,1262.9 2518.5,1260.8 C2519.7,1258.7 2521.0,1256.0 2522.3,1255.8 C2523.6,1255.6 2525.0,1258.1 2526.2,1259.7 C2527.4,1261.2 2528.0,1263.7 2529.5,1265.2 C2531.0,1266.7 2533.6,1267.2 2535.0,1268.5 C2536.5,1269.8 2537.2,1270.9 2538.3,1272.9 C2539.4,1275.0 2540.7,1278.8 2541.7,1280.7 C2542.6,1282.5 2542.9,1284.3 2543.9,1284.0 C2544.8,1283.6 2546.1,1280.1 2547.2,1278.5 C2548.3,1276.8 2549.4,1273.8 2550.5,1274.0 C2551.6,1274.2 2552.7,1277.2 2553.8,1279.6 C2554.9,1282.0 2556.1,1287.7 2557.1,1288.4 C2558.1,1289.1 2559.0,1286.2 2559.9,1284.0 C2560.8,1281.8 2561.6,1276.9 2562.7,1275.1 C2563.7,1273.4 2564.7,1273.3 2566.0,1273.5 C2567.3,1273.7 2569.0,1274.5 2570.4,1276.2 C2571.8,1278.0 2573.1,1280.8 2574.3,1284.0 C2575.5,1287.1 2576.4,1292.1 2577.6,1295.0 C2578.8,1298.0 2580.1,1299.8 2581.4,1301.7 C2582.8,1303.5 2584.6,1304.1 2585.9,1306.1 C2587.1,1308.1 2588.1,1311.4 2589.2,1313.8 C2590.3,1316.2 2591.5,1320.1 2592.5,1320.4 C2593.5,1320.8 2594.3,1318.6 2595.2,1316.0 C2596.2,1313.4 2596.8,1308.5 2598.0,1305.0 C2599.2,1301.5 2601.1,1297.8 2602.4,1295.0 C2603.7,1292.3 2604.6,1289.7 2605.7,1288.4 C2606.9,1287.1 2607.8,1287.3 2609.1,1287.3 C2610.3,1287.3 2612.2,1289.3 2613.5,1288.4 C2614.8,1287.5 2615.7,1284.0 2616.8,1281.8 C2617.9,1279.6 2619.0,1276.4 2620.1,1275.1 C2621.2,1273.8 2622.1,1273.7 2623.4,1274.0 C2624.7,1274.4 2626.6,1275.3 2627.8,1277.3 C2629.1,1279.4 2630.1,1282.9 2631.2,1286.2 C2632.3,1289.5 2633.4,1295.1 2634.5,1297.2 C2635.6,1299.4 2636.5,1298.8 2637.8,1298.9 C2639.1,1299.0 2640.4,1298.0 2642.2,1297.8 C2644.0,1297.6 2647.6,1297.8 2648.6,1297.8" fill="none" stroke="#599af5" stroke-width="4" stroke-linejoin="round" stroke-linecap="butt"/><text class="yl" x="113.6" y="1055.6">66</text><text class="yl" x="113.6" y="1102.6">65</text><text class="yl" x="113.6" y="1148.6">64</text><text class="yl" x="113.6" y="1194.6">63</text><text class="yl" x="113.6" y="1240.6">62</text><text class="yl" x="113.6" y="1286.6">61</text><text class="yl" x="113.6" y="1332.6">60</text><text class="yl" x="113.6" y="1378.6">59</text><text class="xl" x="136.4" y="1414.2">14:18:20</text><text class="xl" x="556.2" y="1414.2">18:18:20</text><text class="xl" x="976.0" y="1414.2">22:18:20</text><text class="xl" x="1395.8" y="1414.2">02:18:20</text><text class="xl" x="1815.6" y="1414.2">06:18:20</text><text class="xl" x="2235.4" y="1414.2">10:18:20</text></svg>
</body></html>
